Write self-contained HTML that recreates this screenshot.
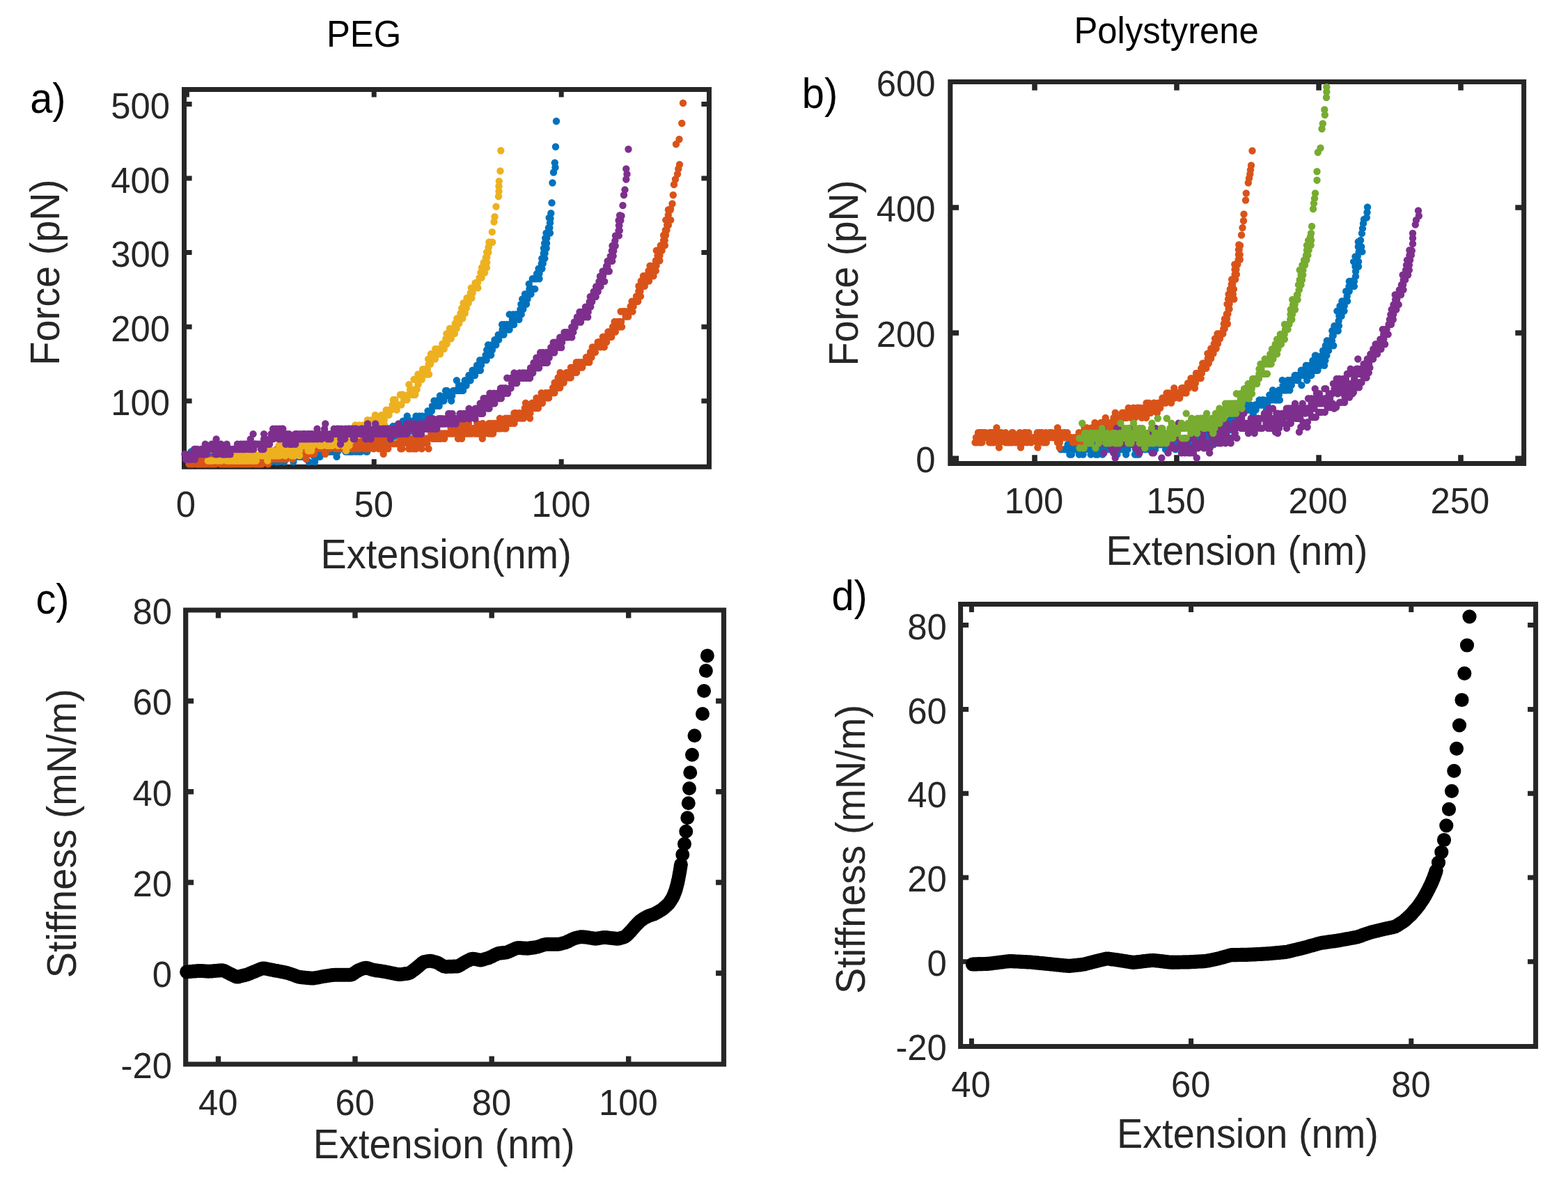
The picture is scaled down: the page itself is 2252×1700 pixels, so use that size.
<!DOCTYPE html>
<html lang="en">
<head>
<meta charset="utf-8">
<title>Force-extension and stiffness curves: PEG and Polystyrene</title>
<style>
html,body{margin:0;padding:0;background:#fff;}
body{width:2252px;height:1700px;overflow:hidden;}
svg text{white-space:pre;}
</style>
</head>
<body>
<svg width="2252" height="1700" viewBox="0 0 2252 1700" role="img" aria-label="Four-panel figure: force-extension curves for PEG and polystyrene, and stiffness versus extension" font-family="'Liberation Sans', sans-serif" style="display:block">
<rect width="2252" height="1700" fill="#ffffff"/>
<g id="panel-a">
<path fill="#262626" d="M261 124.9H1022V131.9H261ZM261 666.8H1022V673.8H261ZM261 124.9H268V673.8H261ZM1015 124.9H1022V673.8H1015ZM264.9 659.2H271.9V667.8H264.9ZM264.9 130.9H271.9V139.5H264.9ZM533.7 659.2H540.7V667.8H533.7ZM533.7 130.9H540.7V139.5H533.7ZM802.7 659.2H809.7V667.8H802.7ZM802.7 130.9H809.7V139.5H802.7ZM267 145.9H275.6V152.9H267ZM1007.4 145.9H1016V152.9H1007.4ZM267 252.5H275.6V259.5H267ZM1007.4 252.5H1016V259.5H1007.4ZM267 359.1H275.6V366.1H267ZM1007.4 359.1H1016V366.1H1007.4ZM267 465.7H275.6V472.7H267ZM1007.4 465.7H1016V472.7H1007.4ZM267 572.2H275.6V579.2H267ZM1007.4 572.2H1016V579.2H1007.4Z"/>
<path fill="none" stroke="#0072bd" stroke-width="10.4" stroke-linecap="round" d="M274.6 648.5h0M276.5 655.8h0M277.2 655.8h0M279.5 655.8h0M281.2 655.8h0M282.5 655.8h0M283.7 655.8h0M285.1 648.5h0M283.4 655.8h0M291.4 655.8h0M286.5 655.8h0M289.1 655.8h0M288.8 663.1h0M291.5 663.1h0M292.8 663.1h0M291.9 655.8h0M295.2 663.1h0M296.8 663.1h0M297.7 663.1h0M296.9 655.8h0M297.5 655.8h0M300.2 655.8h0M300 663.1h0M300.6 663.1h0M300.3 663.1h0M302.7 663.1h0M302.2 655.8h0M304.5 663.1h0M304.8 655.8h0M306 663.1h0M308.7 663.1h0M310.4 655.8h0M314.4 663.1h0M312.7 655.8h0M312.9 663.1h0M312.8 663.1h0M317.5 663.1h0M318 663.1h0M320.9 655.8h0M318.4 663.1h0M319.4 663.1h0M319.4 655.8h0M321.6 655.8h0M323.7 663.1h0M325.8 655.8h0M325.4 655.8h0M326.5 655.8h0M328 663.1h0M333.7 655.8h0M330.2 655.8h0M336.9 655.8h0M336.3 663.1h0M337.3 655.8h0M337.4 663.1h0M340.8 663.1h0M340.4 663.1h0M345.4 655.8h0M347.1 663.1h0M344.4 663.1h0M351 663.1h0M353.6 663.1h0M352.7 663.1h0M352.1 663.1h0M354.4 663.1h0M355.6 663.1h0M357.3 663.1h0M356.9 663.1h0M359 663.1h0M360.9 663.1h0M360.5 663.1h0M364.1 663.1h0M361.3 655.8h0M360.5 663.1h0M365.8 655.8h0M365.4 655.8h0M368.6 655.8h0M366.2 663.1h0M373.5 663.1h0M371.3 655.8h0M374.9 663.1h0M375.5 663.1h0M376.3 663.1h0M377.6 655.8h0M382.6 663.1h0M379.5 663.1h0M380.7 663.1h0M385 655.8h0M384.9 655.8h0M386.6 663.1h0M389.9 655.8h0M389.3 663.1h0M392.2 655.8h0M389.8 663.1h0M394.4 655.8h0M396.9 663.1h0M396.8 663.1h0M398.9 655.8h0M397.2 663.1h0M399.7 663.1h0M400 655.8h0M400.1 655.8h0M399.4 655.8h0M400 663.1h0M400.4 655.8h0M407.7 655.8h0M408.4 655.8h0M408.3 663.1h0M406.7 655.8h0M407.9 655.8h0M405.9 655.8h0M410.2 648.5h0M410.1 655.8h0M412 655.8h0M412.8 655.8h0M416.7 655.8h0M415.6 655.8h0M415.4 655.8h0M417.3 648.5h0M416.2 648.5h0M420.4 648.5h0M421.2 655.8h0M421.4 663.1h0M420.9 655.8h0M422.2 648.5h0M428 655.8h0M424.8 655.8h0M425.3 648.5h0M428.6 648.5h0M430 648.5h0M429.1 648.5h0M430.6 655.8h0M430.5 648.5h0M433.6 655.8h0M435.1 655.8h0M438.1 648.5h0M438.7 655.8h0M441.4 648.5h0M439.2 655.8h0M440.6 648.5h0M443.6 663.1h0M443.5 648.5h0M443.8 648.5h0M445.2 641.2h0M448.5 648.5h0M446.6 648.5h0M449 648.5h0M447.8 648.5h0M452.2 663.1h0M451.4 655.8h0M452.8 655.8h0M452.8 655.8h0M454.1 655.8h0M454.8 648.5h0M457.3 655.8h0M458.2 641.2h0M460.1 648.5h0M457.1 648.5h0M459.3 648.5h0M459.5 655.8h0M464.8 648.5h0M462.2 641.2h0M469 648.5h0M466.4 648.5h0M467.9 641.2h0M467.6 641.2h0M466.8 641.2h0M470.1 641.2h0M467.8 648.5h0M473.3 648.5h0M474.4 648.5h0M472.3 648.5h0M476.8 641.2h0M477.2 641.2h0M476.9 648.5h0M477.4 641.2h0M479 648.5h0M479.8 641.2h0M478.8 641.2h0M482.9 648.5h0M484.9 648.5h0M483.6 655.8h0M484.4 648.5h0M488.4 633.9h0M488.9 641.2h0M489.5 641.2h0M488.3 633.9h0M490.5 641.2h0M492.6 641.2h0M492.5 641.2h0M494 641.2h0M496.4 648.5h0M498.6 648.5h0M496.1 641.2h0M501.6 648.5h0M501.4 641.2h0M502.1 641.2h0M502.8 648.5h0M502.9 648.5h0M506 648.5h0M506.6 648.5h0M510.8 648.5h0M511.2 648.5h0M514.9 641.2h0M512.5 641.2h0M513.8 641.2h0M512.4 633.9h0M515.4 648.5h0M517.9 641.2h0M518.2 648.5h0M516.5 641.2h0M519.5 641.2h0M522.4 641.2h0M522.8 641.2h0M525 641.2h0M529 641.2h0M526.1 648.5h0M524.3 641.2h0M529 641.2h0M527.2 648.5h0M531.6 641.2h0M530.3 641.2h0M531.1 641.2h0M531.6 641.2h0M533 641.2h0M533.3 641.2h0M535.1 641.2h0M539.6 641.2h0M538.4 633.9h0M539 626.6h0M538.5 633.9h0M539.8 641.2h0M543.3 626.6h0M541.6 626.6h0M542.7 641.2h0M542.7 626.6h0M543.8 626.6h0M546.1 626.6h0M547.7 633.9h0M545.3 633.9h0M546.6 626.6h0M549.1 633.9h0M550.7 619.3h0M551.2 626.6h0M551.3 626.6h0M552.1 619.3h0M554.4 619.3h0M554.3 626.6h0M553.3 626.6h0M558 619.3h0M559.4 619.3h0M558.9 619.3h0M560.4 619.3h0M557.8 619.3h0M562.6 619.3h0M565.4 619.3h0M564.4 612h0M565.5 619.3h0M567.3 619.3h0M568.1 612h0M566.9 626.6h0M572.7 619.3h0M570.8 619.3h0M574.5 619.3h0M573.6 619.3h0M573.7 612h0M577.5 612h0M579.1 612h0M579.5 604.7h0M578.7 604.7h0M580 612h0M581.2 619.3h0M583.6 604.7h0M582.2 612h0M584.1 612h0M584.8 597.4h0M586.6 604.7h0M589.1 619.3h0M588.2 604.7h0M590.1 604.7h0M591.7 604.7h0M592.6 612h0M593.9 604.7h0M593.9 604.7h0M592.1 604.7h0M594.5 604.7h0M596.5 612h0M597.5 597.4h0M600.3 604.7h0M601 612h0M602.8 604.7h0M602.5 612h0M602.6 597.4h0M605 604.7h0M607.7 604.7h0M608.8 604.7h0M606.4 597.4h0M609.7 604.7h0M607.5 604.7h0M606.4 597.4h0M612.1 597.4h0M612.9 597.4h0M614.5 590.1h0M615.3 597.4h0M617.2 590.1h0M615.4 597.4h0M617.2 597.4h0M617.1 590.1h0M620 590.1h0M617.2 597.4h0M621 582.8h0M621.4 582.8h0M624.2 582.8h0M623.5 575.5h0M624.3 582.8h0M625 582.8h0M624.2 582.8h0M629.8 582.8h0M627.5 575.5h0M630.7 582.8h0M630.5 575.5h0M631 575.5h0M632 568.2h0M634.3 575.5h0M635.9 575.5h0M634.9 575.5h0M637.4 575.5h0M637.4 575.5h0M639.3 568.2h0M640.1 560.9h0M641.9 560.9h0M645.1 568.2h0M643.4 568.2h0M643.4 568.2h0M643.5 568.2h0M644.9 568.2h0M647.6 568.2h0M648.2 575.5h0M651 560.9h0M649.2 568.2h0M653.2 560.9h0M652.8 560.9h0M654.2 560.9h0M655.9 546.3h0M656.9 560.9h0M654.7 560.9h0M656.7 560.9h0M659.3 553.6h0M659 553.6h0M657.1 560.9h0M662 553.6h0M660.3 560.9h0M662.8 560.9h0M665 560.9h0M665.4 553.6h0M663.8 553.6h0M666.7 553.6h0M667.7 546.3h0M669.2 546.3h0M669.2 553.6h0M669.6 553.6h0M673 546.3h0M671 546.3h0M673.4 539h0M674.1 539h0M675.5 546.3h0M674.2 539h0M677 539h0M674.8 539h0M678.6 531.7h0M678.4 539h0M679.5 531.7h0M682.8 531.7h0M680.5 531.7h0M682 539h0M681.3 531.7h0M685.1 524.4h0M687.8 524.4h0M687.4 531.7h0M687 531.7h0M689.9 531.7h0M688.3 524.4h0M688.3 524.4h0M687.4 531.7h0M691 524.4h0M689.2 517.1h0M692.5 517.1h0M696.9 517.1h0M696.6 517.1h0M696.4 517.1h0M696 517.1h0M697.6 509.8h0M698.6 517.1h0M700.4 509.8h0M700.9 509.8h0M698.7 509.8h0M699.2 502.5h0M703.5 502.5h0M702.9 509.8h0M705.2 509.8h0M706.4 495.2h0M704.3 502.5h0M701.1 495.2h0M706.9 502.5h0M709.9 495.2h0M709.5 495.2h0M710.5 487.9h0M710.5 495.2h0M712.3 495.2h0M711.6 495.2h0M713.3 487.9h0M713.5 487.9h0M714.3 487.9h0M714.6 487.9h0M716.8 480.6h0M715.7 480.6h0M716.2 487.9h0M716.1 487.9h0M719.9 480.6h0M721.6 473.3h0M720.7 480.6h0M721.1 466h0M724.2 473.3h0M723.5 480.6h0M723.4 473.3h0M724.9 473.3h0M724.1 466h0M728.4 466h0M729.2 473.3h0M727.5 466h0M731 466h0M731.6 473.3h0M731.7 451.4h0M735.9 458.7h0M734.1 466h0M736.5 458.7h0M738 458.7h0M738.1 466h0M736.8 458.7h0M736.9 451.4h0M740 451.4h0M738.6 458.7h0M742.3 451.4h0M741.7 451.4h0M744 451.4h0M745.4 458.7h0M746.9 451.4h0M744.6 451.4h0M748.7 451.4h0M745 451.4h0M745.6 451.4h0M748.4 436.8h0M750.6 444.1h0M747.4 444.1h0M747.6 444.1h0M749.5 436.8h0M751.3 444.1h0M752.3 436.8h0M750.2 429.5h0M755.2 436.8h0M756 436.8h0M755.7 429.5h0M754 422.2h0M754.5 429.5h0M756.1 429.5h0M757.5 429.5h0M759.8 422.2h0M760.4 414.9h0M759.7 407.6h0M762.5 422.2h0M764.2 414.9h0M761.4 422.2h0M762.9 414.9h0M764.8 400.3h0M763.2 414.9h0M764.2 414.9h0M762.9 414.9h0M768.2 414.9h0M768.7 400.3h0M765.4 414.9h0M768.5 400.3h0M767.1 400.3h0M771.6 393h0M770.5 400.3h0M770.2 400.3h0M772.3 393h0M774.5 400.3h0M771.1 393h0M773.8 393h0M774.5 393h0M773.6 385.7h0M774.9 385.7h0M774.6 385.7h0M777.7 385.7h0M778.4 385.7h0M778.3 371.1h0M777.8 378.4h0M779.8 378.4h0M782.3 371.1h0M779.3 371.1h0M778.7 371.1h0M779.2 371.1h0M782.6 363.8h0M781 356.5h0M780.8 363.8h0M782.4 356.5h0M784.7 356.5h0M784.6 341.9h0M782.2 349.2h0M785.1 349.2h0M784.6 349.2h0M783.2 349.2h0M784.6 349.2h0M783.2 341.9h0M784.5 334.6h0M785.3 341.9h0M785 334.6h0M785.6 334.6h0M787.9 327.3h0M790 334.6h0M789.4 327.3h0M790 320h0M789.9 320h0M788.7 312.7h0M790.5 313.8h0M791.3 306.3h0M792.5 291.3h0M793.5 262.5h0M795 247.5h0M797.5 240.5h0M796.8 233.8h0M798 210.8h0M799 174h0"/>
<path fill="none" stroke="#d95319" stroke-width="10.4" stroke-linecap="round" d="M271.5 666.3h0M272.7 666.3h0M275.6 666.3h0M277.2 666.3h0M280.9 659h0M282.6 666.3h0M282.3 666.3h0M286.9 666.3h0M286.2 659h0M286.2 666.3h0M289.9 659h0M291.1 666.3h0M288.8 666.3h0M289.7 666.3h0M293.4 666.3h0M291.9 666.3h0M293.7 666.3h0M296.6 666.3h0M295.8 666.3h0M296.9 651.7h0M296.8 666.3h0M302.5 666.3h0M300.9 666.3h0M298.5 659h0M303.6 666.3h0M305.4 659h0M309.5 666.3h0M307.4 666.3h0M312.7 659h0M312.3 659h0M316.7 666.3h0M320.5 666.3h0M324 666.3h0M321.7 666.3h0M324.4 666.3h0M326.5 666.3h0M323.8 666.3h0M330.3 666.3h0M331.4 666.3h0M331.7 666.3h0M331.9 666.3h0M331.7 659h0M335 659h0M335.1 659h0M334.5 666.3h0M336.7 666.3h0M339.4 666.3h0M343.8 666.3h0M347.6 666.3h0M349.2 659h0M349.4 666.3h0M353.1 659h0M353.2 666.3h0M354.3 666.3h0M353.7 666.3h0M356.8 666.3h0M358.4 659h0M359.3 659h0M359 659h0M360.6 659h0M360.7 666.3h0M364.9 659h0M365.6 666.3h0M366.2 666.3h0M367.4 666.3h0M369.8 666.3h0M373.5 666.3h0M371.5 659h0M373.6 666.3h0M370.6 659h0M378 659h0M376.3 666.3h0M374.2 659h0M380.5 651.7h0M381.9 659h0M381.5 659h0M380.9 659h0M381.7 659h0M385.1 666.3h0M384.4 651.7h0M387.8 659h0M387.9 651.7h0M389.3 659h0M390.5 651.7h0M392.8 651.7h0M391.4 651.7h0M391.8 659h0M388.9 659h0M395 651.7h0M398 659h0M398 644.4h0M397.6 659h0M400.8 651.7h0M400 651.7h0M399.4 651.7h0M402.9 651.7h0M406.6 644.4h0M404.2 659h0M407.8 651.7h0M407.2 659h0M408.4 651.7h0M409.3 644.4h0M413.6 651.7h0M411.9 651.7h0M411.5 659h0M416.2 651.7h0M415.1 651.7h0M416 651.7h0M418 644.4h0M420.3 659h0M418.4 644.4h0M420.1 644.4h0M421.4 651.7h0M419.9 637.1h0M425.3 644.4h0M423.1 651.7h0M427.7 644.4h0M427.8 651.7h0M428.5 644.4h0M432.9 651.7h0M433.4 651.7h0M432.4 644.4h0M433.6 644.4h0M436.5 644.4h0M438.7 651.7h0M440.2 644.4h0M439.6 659h0M439.7 651.7h0M445.3 644.4h0M444.3 644.4h0M446.4 644.4h0M446.4 651.7h0M446.5 651.7h0M447.1 651.7h0M450.4 644.4h0M451.1 651.7h0M451.4 637.1h0M450 644.4h0M452 637.1h0M454.8 637.1h0M456.7 644.4h0M455 637.1h0M457.2 637.1h0M461.8 644.4h0M458.9 637.1h0M462.8 637.1h0M464.2 644.4h0M461.9 644.4h0M462.5 644.4h0M468 644.4h0M465 644.4h0M465.8 637.1h0M468 644.4h0M467.3 651.7h0M470.5 644.4h0M472 637.1h0M473.2 644.4h0M471.9 637.1h0M475 637.1h0M474.7 637.1h0M478.2 637.1h0M480.3 629.8h0M478.4 637.1h0M478.5 637.1h0M479.3 629.8h0M482 644.4h0M483.7 637.1h0M481.5 629.8h0M483.5 637.1h0M486 637.1h0M485.8 644.4h0M489.6 629.8h0M491.4 644.4h0M491.2 629.8h0M493.1 637.1h0M492.5 637.1h0M496.4 637.1h0M495.3 637.1h0M492.5 629.8h0M496.8 629.8h0M497.8 637.1h0M498.5 637.1h0M497.6 644.4h0M499.1 637.1h0M500.7 644.4h0M500.6 637.1h0M507 637.1h0M505.9 644.4h0M505.5 637.1h0M506.2 629.8h0M508.2 637.1h0M508.3 644.4h0M505.9 637.1h0M511.3 637.1h0M512 644.4h0M511.2 644.4h0M510.5 644.4h0M513 637.1h0M515.5 629.8h0M516.5 644.4h0M517.1 637.1h0M518.5 629.8h0M520.4 637.1h0M520 629.8h0M523.9 637.1h0M523 637.1h0M524 644.4h0M525.6 637.1h0M526.3 644.4h0M526 637.1h0M527.5 637.1h0M530.2 644.4h0M531.2 629.8h0M535.4 637.1h0M532.7 637.1h0M533.7 637.1h0M533.3 637.1h0M536.8 644.4h0M534.3 637.1h0M536.1 629.8h0M541.1 637.1h0M538.5 629.8h0M537.8 637.1h0M540.7 629.8h0M543.9 644.4h0M544 637.1h0M546.9 637.1h0M545.5 644.4h0M548.4 637.1h0M550.2 644.4h0M548.6 637.1h0M550.7 651.7h0M550.9 629.8h0M552.5 637.1h0M553.2 644.4h0M554.3 637.1h0M557.1 637.1h0M560.6 637.1h0M557.2 644.4h0M557.2 637.1h0M560.9 637.1h0M563.9 637.1h0M562.2 637.1h0M562.7 637.1h0M564.8 637.1h0M568.6 637.1h0M569.8 637.1h0M571.9 637.1h0M570.7 637.1h0M571.3 637.1h0M575.4 644.4h0M573.4 637.1h0M574.8 629.8h0M576.1 637.1h0M576 637.1h0M576.6 637.1h0M577.2 644.4h0M578.9 637.1h0M582.2 629.8h0M582.2 629.8h0M586.1 637.1h0M586.4 637.1h0M583.5 629.8h0M589.7 644.4h0M588.9 644.4h0M587.2 644.4h0M589.7 637.1h0M589 629.8h0M590.6 637.1h0M590.4 637.1h0M593.1 629.8h0M594.3 644.4h0M597.1 637.1h0M594.5 629.8h0M596.1 629.8h0M598.6 637.1h0M597.7 644.4h0M598.8 637.1h0M603.8 637.1h0M603.8 637.1h0M605 637.1h0M602.7 629.8h0M605.7 644.4h0M606.5 637.1h0M609.8 629.8h0M609.8 629.8h0M611.1 629.8h0M614.4 629.8h0M613.5 637.1h0M613.2 629.8h0M614.1 629.8h0M615.5 644.4h0M619.9 622.5h0M619.2 622.5h0M620.8 629.8h0M621.8 622.5h0M621.1 629.8h0M623.7 629.8h0M622.5 622.5h0M626.9 629.8h0M625.6 622.5h0M628 622.5h0M628.6 629.8h0M627.8 629.8h0M631.3 622.5h0M633.2 629.8h0M632.4 629.8h0M634.4 622.5h0M637.4 622.5h0M639.2 622.5h0M639.2 622.5h0M638.1 629.8h0M642.7 607.9h0M641.3 622.5h0M642.9 622.5h0M643.5 622.5h0M646.6 622.5h0M646.6 622.5h0M648.1 622.5h0M647.7 615.2h0M651.1 615.2h0M650.9 622.5h0M651.1 622.5h0M655.2 622.5h0M656.4 622.5h0M658 629.8h0M658.1 615.2h0M660.4 615.2h0M664.4 622.5h0M663.1 629.8h0M661.9 607.9h0M663.4 615.2h0M662.9 615.2h0M666.9 615.2h0M666.5 607.9h0M664.3 600.6h0M667.8 615.2h0M666.9 622.5h0M672.9 607.9h0M669.2 622.5h0M670.8 615.2h0M672.9 622.5h0M676.7 622.5h0M676.6 622.5h0M674.8 615.2h0M676.2 615.2h0M677.7 615.2h0M679.7 615.2h0M677.6 615.2h0M677.5 622.5h0M682 615.2h0M681.7 615.2h0M682.4 622.5h0M685 622.5h0M685.3 615.2h0M685.3 607.9h0M686.8 615.2h0M686.4 622.5h0M686.9 622.5h0M689.2 622.5h0M687.2 615.2h0M693.1 607.9h0M691.9 615.2h0M694.2 622.5h0M696.6 622.5h0M692.8 629.8h0M696 615.2h0M695.9 615.2h0M702.1 622.5h0M701.2 615.2h0M702.5 615.2h0M700.8 615.2h0M702.3 607.9h0M701.7 615.2h0M704.1 615.2h0M705.5 622.5h0M707.5 615.2h0M706.1 607.9h0M711.7 615.2h0M710.6 607.9h0M708.1 622.5h0M710.6 607.9h0M715.1 607.9h0M713.3 607.9h0M714.6 615.2h0M715.7 607.9h0M717.5 615.2h0M715.7 607.9h0M719.4 607.9h0M719.5 615.2h0M717.9 600.6h0M722 607.9h0M719.9 607.9h0M725.1 607.9h0M724.7 615.2h0M725.7 600.6h0M728.5 607.9h0M726.5 615.2h0M729.2 607.9h0M728.7 600.6h0M733.8 600.6h0M731.3 600.6h0M732.8 607.9h0M730.6 607.9h0M733.7 607.9h0M736.9 600.6h0M738.4 593.3h0M738.5 607.9h0M742.3 600.6h0M739.4 593.3h0M741.3 593.3h0M740.5 593.3h0M740.7 593.3h0M744 600.6h0M743.4 600.6h0M746.4 593.3h0M749.2 600.6h0M748.7 600.6h0M745.4 593.3h0M750.5 593.3h0M748.4 600.6h0M754.3 593.3h0M753.8 586h0M753.5 593.3h0M751.9 600.6h0M756.5 586h0M758.4 586h0M755 578.7h0M759.5 593.3h0M761.4 593.3h0M761.4 586h0M761.2 586h0M761.1 600.6h0M763.3 586h0M764 586h0M764.2 578.7h0M766.5 578.7h0M768.6 586h0M768.8 578.7h0M770.5 571.4h0M770.7 586h0M772.9 586h0M771.7 578.7h0M774.8 578.7h0M771.2 578.7h0M773.9 578.7h0M775.7 571.4h0M778.9 578.7h0M779.6 571.4h0M778 571.4h0M780 571.4h0M777.6 564.1h0M780.3 571.4h0M779.8 571.4h0M783.4 564.1h0M785.9 564.1h0M784.2 571.4h0M784.8 571.4h0M788.1 571.4h0M786.5 571.4h0M785.2 571.4h0M787.5 564.1h0M789.1 564.1h0M788 571.4h0M791.4 564.1h0M794.4 564.1h0M795.6 556.8h0M792.6 564.1h0M794.1 556.8h0M794.2 564.1h0M796.4 564.1h0M799.6 556.8h0M796.6 549.5h0M798.9 556.8h0M798.3 549.5h0M799.6 556.8h0M801.8 556.8h0M803.7 549.5h0M801.6 542.2h0M809.6 549.5h0M806.6 549.5h0M804.2 556.8h0M804.6 534.9h0M809.3 549.5h0M809.7 542.2h0M808.8 549.5h0M812.1 542.2h0M812.3 542.2h0M813.7 534.9h0M812.9 542.2h0M816.2 534.9h0M813.9 542.2h0M817.6 542.2h0M816.5 534.9h0M816.9 534.9h0M821.7 534.9h0M819.6 534.9h0M816.9 534.9h0M819.9 527.6h0M819.7 542.2h0M822.5 534.9h0M824 534.9h0M822.6 527.6h0M824.9 534.9h0M825.3 534.9h0M827.8 520.3h0M828 534.9h0M830.4 527.6h0M830.3 527.6h0M831 527.6h0M831.7 527.6h0M831.8 520.3h0M831 520.3h0M835.3 520.3h0M836.2 527.6h0M841.3 520.3h0M834.5 527.6h0M838.3 520.3h0M839.3 520.3h0M841.6 520.3h0M842.9 513h0M842 513h0M845.6 513h0M843.8 513h0M844.2 513h0M846.3 520.3h0M847.8 513h0M849.1 513h0M847.9 505.7h0M848.4 505.7h0M852.2 505.7h0M849.5 513h0M850.8 498.4h0M854.9 505.7h0M857.2 498.4h0M853.7 498.4h0M857.6 498.4h0M859.8 491.1h0M857.1 498.4h0M858.6 491.1h0M861.4 491.1h0M862.4 498.4h0M862.2 491.1h0M862.5 491.1h0M863.2 491.1h0M863.3 491.1h0M865.8 483.8h0M866 491.1h0M867.8 498.4h0M867.9 483.8h0M871.2 491.1h0M870.6 483.8h0M872.6 483.8h0M871.3 483.8h0M873.4 476.5h0M874 476.5h0M873.3 483.8h0M878.3 483.8h0M876.1 483.8h0M878.2 476.5h0M878.2 476.5h0M880.1 469.2h0M882.9 476.5h0M882 469.2h0M882.7 469.2h0M883.8 476.5h0M883 461.9h0M886.5 461.9h0M882.6 461.9h0M887.8 469.2h0M889.5 461.9h0M889.6 469.2h0M890.4 461.9h0M893 469.2h0M891.6 447.3h0M892.1 461.9h0M892.3 469.2h0M891.8 461.9h0M894.8 447.3h0M897.1 447.3h0M898.7 447.3h0M898.7 454.6h0M898.9 454.6h0M902.2 447.3h0M903.1 447.3h0M901.8 454.6h0M902.2 454.6h0M905.6 440h0M903.1 447.3h0M907 440h0M909.4 440h0M906.5 440h0M909.3 440h0M908.5 447.3h0M909.1 440h0M909.7 440h0M907.6 432.7h0M910.7 432.7h0M912.6 432.7h0M914 425.4h0M916.2 432.7h0M914.4 425.4h0M915 425.4h0M917.3 418.1h0M914.2 425.4h0M916.4 425.4h0M919.8 425.4h0M920 425.4h0M919.5 418.1h0M920.8 410.8h0M918.8 410.8h0M917.4 410.8h0M920.8 403.5h0M923.3 410.8h0M924.3 410.8h0M924 396.2h0M921.7 403.5h0M925.4 396.2h0M925.8 410.8h0M928.7 403.5h0M928.7 403.5h0M928.2 403.5h0M929.7 396.2h0M929.3 396.2h0M931.5 388.9h0M932 403.5h0M931.8 396.2h0M935 388.9h0M933.5 381.6h0M937 388.9h0M935.3 396.2h0M936.1 396.2h0M938.5 396.2h0M938.3 396.2h0M939.8 381.6h0M939.1 381.6h0M939.2 381.6h0M941.7 381.6h0M941.8 388.9h0M943.1 374.3h0M941.9 374.3h0M942.3 374.3h0M942.6 381.6h0M942.8 359.7h0M944.5 367h0M947.4 374.3h0M946.6 367h0M947.8 359.7h0M947.4 367h0M947 359.7h0M947.5 359.7h0M949.1 352.4h0M947.5 359.7h0M950.6 359.7h0M949.7 352.4h0M948.8 352.4h0M953.6 352.4h0M953 345.1h0M954.7 345.1h0M954.9 352.4h0M956 337.8h0M954.6 345.1h0M954.5 345.1h0M953.1 337.8h0M956.7 330.5h0M957 330.5h0M957.5 330.5h0M955.8 330.5h0M958.3 323.2h0M958.2 323.2h0M959.9 323.2h0M959.4 315.9h0M956.3 315.9h0M960.9 315.9h0M963.2 315.9h0M960.3 315.9h0M962.8 301.3h0M959.8 308.6h0M959.9 301.3h0M963 300h0M965.5 292.5h0M966.8 280h0M968 265h0M970 257.5h0M973 250h0M974.3 242.5h0M976 236.3h0M971 207h0M975.5 200h0M979.3 177h0M981 148h0"/>
<path fill="none" stroke="#edb120" stroke-width="10.4" stroke-linecap="round" d="M298.8 661.6h0M302.3 661.6h0M306.1 661.6h0M304.7 661.6h0M312 661.6h0M312.8 661.6h0M317.9 661.6h0M317.7 661.6h0M325.5 661.6h0M326.8 661.6h0M328.5 661.6h0M331.6 661.6h0M332.8 661.6h0M333.6 661.6h0M335 661.6h0M337.9 661.6h0M336.9 661.6h0M339.6 661.6h0M340 654.3h0M344.1 661.6h0M342.5 654.3h0M345 661.6h0M343.4 661.6h0M345.2 661.6h0M346.5 654.3h0M348 661.6h0M348.2 661.6h0M350.1 661.6h0M351.8 654.3h0M352.5 661.6h0M351.5 661.6h0M354.3 661.6h0M354.3 661.6h0M356.6 654.3h0M354.9 654.3h0M357.7 661.6h0M357.2 661.6h0M362.1 661.6h0M365.8 654.3h0M363.1 654.3h0M362.8 654.3h0M365 661.6h0M363.7 647h0M366.4 654.3h0M367.8 661.6h0M367 654.3h0M369.5 654.3h0M369.6 654.3h0M373.8 639.7h0M374.5 654.3h0M375.7 654.3h0M376.9 654.3h0M374.9 654.3h0M375.8 647h0M377.6 639.7h0M376.6 654.3h0M379.4 654.3h0M380.2 654.3h0M381.6 639.7h0M382.6 647h0M383.1 647h0M382.5 654.3h0M385.3 654.3h0M384.1 654.3h0M384.3 661.6h0M385.4 647h0M389.8 647h0M391.2 654.3h0M388.9 647h0M391.1 654.3h0M393.5 654.3h0M392.7 647h0M397.9 654.3h0M395.4 654.3h0M400.4 639.7h0M401.6 647h0M405.3 647h0M401.8 654.3h0M402.9 647h0M404.2 647h0M405.4 647h0M404.8 647h0M404.8 639.7h0M405 647h0M409.7 654.3h0M409.4 639.7h0M409 647h0M412.5 647h0M412.1 647h0M413.5 647h0M418.5 647h0M417.1 647h0M418.6 654.3h0M417.7 647h0M419.5 647h0M422.5 654.3h0M422.8 639.7h0M423 639.7h0M423.8 647h0M422.2 647h0M423.5 647h0M424.9 647h0M427.4 632.4h0M430.1 654.3h0M431 639.7h0M430.2 647h0M434 639.7h0M431.6 639.7h0M437.2 639.7h0M437 632.4h0M439.6 639.7h0M437.6 639.7h0M439.6 639.7h0M438.2 639.7h0M442.5 647h0M440.6 639.7h0M442.8 639.7h0M444.4 647h0M444.8 647h0M447.3 647h0M448.7 639.7h0M449.3 639.7h0M448.9 639.7h0M449.8 639.7h0M452.4 632.4h0M452.8 632.4h0M456 632.4h0M457.2 632.4h0M459.2 639.7h0M455.9 632.4h0M459.5 632.4h0M462.7 639.7h0M460.3 639.7h0M462.3 632.4h0M464 632.4h0M466.3 625.1h0M466.7 632.4h0M470.2 632.4h0M469.7 639.7h0M470 632.4h0M472 632.4h0M471.1 632.4h0M471.9 639.7h0M473.3 639.7h0M473 632.4h0M474.7 625.1h0M475.1 632.4h0M480.3 632.4h0M477.3 639.7h0M478.4 625.1h0M481 632.4h0M485.4 632.4h0M484.4 632.4h0M485.3 639.7h0M485 632.4h0M486.5 632.4h0M486.4 625.1h0M488.6 632.4h0M491.8 632.4h0M492.3 625.1h0M491.5 632.4h0M489.8 632.4h0M492.6 639.7h0M497.2 647h0M496.8 632.4h0M495.1 639.7h0M496.7 632.4h0M500 639.7h0M501.6 639.7h0M500.8 632.4h0M501.6 632.4h0M504.6 632.4h0M505 632.4h0M504.8 625.1h0M506.3 625.1h0M507.5 625.1h0M508.1 625.1h0M507.4 625.1h0M508.7 617.8h0M510.3 610.5h0M514.4 625.1h0M511.8 625.1h0M512.2 625.1h0M516.5 617.8h0M516.3 610.5h0M519.1 617.8h0M518.8 617.8h0M519.8 617.8h0M520.1 617.8h0M521.6 610.5h0M522.5 617.8h0M522.8 610.5h0M524.2 610.5h0M523.6 610.5h0M527.4 610.5h0M527.8 603.2h0M528.4 603.2h0M526.5 610.5h0M527.6 610.5h0M528.5 610.5h0M529 610.5h0M533.5 603.2h0M531.7 610.5h0M534.8 603.2h0M533.5 610.5h0M536.6 603.2h0M535.3 603.2h0M536.8 610.5h0M538.9 595.9h0M538.7 603.2h0M542.2 610.5h0M545.6 603.2h0M543.6 603.2h0M544.3 603.2h0M543.1 610.5h0M547 603.2h0M548 595.9h0M549.9 595.9h0M546.2 603.2h0M551.8 603.2h0M552.5 610.5h0M551.5 595.9h0M554 595.9h0M553.8 595.9h0M554.9 595.9h0M554.7 588.6h0M558.5 595.9h0M561.7 588.6h0M558.1 588.6h0M560.8 588.6h0M561.9 588.6h0M561.5 588.6h0M567.7 581.3h0M563.7 581.3h0M565.5 581.3h0M564.9 574h0M570.2 581.3h0M567.1 581.3h0M569.7 588.6h0M567.5 574h0M574.1 581.3h0M569.1 581.3h0M574.6 581.3h0M574.9 566.7h0M575.8 581.3h0M576.2 566.7h0M577.9 566.7h0M576.4 581.3h0M580.1 574h0M578 566.7h0M578.6 566.7h0M580.6 574h0M583.2 574h0M584.3 574h0M584.6 574h0M586.6 566.7h0M587.4 552.1h0M589.1 559.4h0M592 566.7h0M591.5 559.4h0M593.2 566.7h0M594 559.4h0M594.4 566.7h0M596.3 566.7h0M594.5 544.8h0M596.3 559.4h0M598.6 559.4h0M597.7 559.4h0M600.5 552.1h0M603.1 544.8h0M600.4 537.5h0M600.7 552.1h0M603.3 544.8h0M601.5 544.8h0M603 544.8h0M601.5 537.5h0M605.8 544.8h0M605.9 537.5h0M607.1 530.2h0M606.4 537.5h0M610 530.2h0M605.2 537.5h0M609.6 537.5h0M612.1 537.5h0M610.8 530.2h0M611.9 530.2h0M615.7 522.9h0M613.9 530.2h0M615.1 515.6h0M618.1 522.9h0M616.1 537.5h0M616.8 522.9h0M616.9 522.9h0M618.9 508.3h0M618.4 515.6h0M619.5 515.6h0M619.9 508.3h0M623.1 515.6h0M621 508.3h0M625.9 508.3h0M624.9 515.6h0M625.2 508.3h0M624.5 508.3h0M625.3 501h0M631.5 508.3h0M628.8 508.3h0M632.1 508.3h0M631.4 508.3h0M630.6 501h0M634.2 501h0M632.8 501h0M635.8 501h0M635.3 493.7h0M637.7 501h0M639.2 493.7h0M640.1 493.7h0M640.5 493.7h0M641 486.4h0M640.3 486.4h0M641.7 493.7h0M641.4 479.1h0M641.9 486.4h0M643.7 486.4h0M646 471.8h0M649 479.1h0M644.7 486.4h0M647.7 486.4h0M649.6 479.1h0M647.8 479.1h0M649.2 479.1h0M650.1 471.8h0M652.9 479.1h0M649.2 471.8h0M652.8 471.8h0M653.8 464.5h0M656.4 464.5h0M654.5 464.5h0M655.7 471.8h0M658.4 464.5h0M657.9 457.2h0M657.1 464.5h0M656.4 457.2h0M661.4 449.9h0M659.2 464.5h0M658.4 457.2h0M661.9 457.2h0M661.7 449.9h0M664.3 457.2h0M662 457.2h0M662.3 449.9h0M663.2 442.6h0M664.5 442.6h0M665.1 442.6h0M666.6 449.9h0M665.6 435.3h0M667.8 449.9h0M669.4 435.3h0M666.6 442.6h0M669.8 442.6h0M669.7 442.6h0M670.9 435.3h0M671.5 435.3h0M670.6 428h0M672.7 435.3h0M672.1 428h0M676.7 428h0M673.9 428h0M677.3 420.7h0M675.7 420.7h0M676.8 413.4h0M677.4 428h0M678.6 420.7h0M682.3 413.4h0M682.2 413.4h0M680.5 413.4h0M682.6 406.1h0M684.1 406.1h0M682.4 413.4h0M686.2 413.4h0M686.4 413.4h0M683.5 406.1h0M685.7 413.4h0M686 406.1h0M688.5 398.8h0M691.6 398.8h0M689.2 398.8h0M689 398.8h0M689.3 398.8h0M689.8 398.8h0M688.7 398.8h0M696.1 391.5h0M692 384.2h0M690.5 391.5h0M693.9 384.2h0M694.8 384.2h0M695.2 376.9h0M696.7 376.9h0M694.7 376.9h0M698.9 384.2h0M697.5 376.9h0M696.5 376.9h0M699.2 376.9h0M699.3 369.6h0M699.3 369.6h0M697.8 369.6h0M701.4 362.3h0M700.3 362.3h0M701.8 355h0M699.1 362.3h0M701.1 362.3h0M701.5 355h0M702.8 347.7h0M701.9 355h0M702.4 347.7h0M707.2 347.7h0M704.5 347.7h0M706.8 333.1h0M709.5 318.5h0M710.5 311.2h0M712.5 296.6h0M716 282h0M716.5 274.7h0M716.5 267.4h0M716.8 260.1h0M718.5 245.5h0M719.3 216.3h0"/>
<path fill="none" stroke="#7e2f8e" stroke-width="10.4" stroke-linecap="round" d="M265.4 652.3h0M266.9 659.6h0M271.4 652.3h0M269.8 659.6h0M270.8 652.3h0M274.1 659.6h0M273.5 659.6h0M273.7 659.6h0M274.1 652.3h0M276.6 652.3h0M278.8 652.3h0M276.3 652.3h0M278.1 652.3h0M279.8 659.6h0M280 645h0M279.1 645h0M281.7 645h0M283.2 645h0M284.8 652.3h0M286.1 652.3h0M288.9 645h0M289.7 645h0M291.7 645h0M294.8 637.7h0M291.8 652.3h0M293.2 645h0M296.8 645h0M296.5 645h0M294.5 645h0M296.5 652.3h0M296.9 645h0M298.4 645h0M299.3 645h0M300.4 645h0M302.5 645h0M301.8 645h0M303.9 637.7h0M302.9 645h0M305.1 637.7h0M307.4 645h0M305.3 645h0M310.5 637.7h0M309.6 652.3h0M310.6 630.4h0M308.2 637.7h0M311.7 645h0M311.3 652.3h0M313.9 645h0M317.2 637.7h0M317.4 637.7h0M317.1 645h0M316.8 645h0M319.5 652.3h0M319.2 652.3h0M322.2 645h0M326 652.3h0M324.3 652.3h0M325.8 645h0M325.7 637.7h0M324.1 645h0M328.7 645h0M331 645h0M331.6 645h0M330.4 645h0M330.5 652.3h0M330.7 645h0M334.6 645h0M334.6 645h0M334.9 645h0M336.3 645h0M337.3 645h0M338.5 645h0M339.5 645h0M341 637.7h0M340.9 637.7h0M343.1 645h0M344.5 645h0M347 637.7h0M345.5 637.7h0M345.5 645h0M342.7 645h0M348.6 645h0M352.5 645h0M349.8 645h0M351 637.7h0M350.3 637.7h0M351.1 645h0M353.8 637.7h0M353.6 637.7h0M358 645h0M358.5 645h0M357.6 637.7h0M359.8 630.4h0M361.1 645h0M360.9 637.7h0M363.6 623.1h0M364.3 645h0M365.2 637.7h0M366.5 637.7h0M366.1 637.7h0M367.2 637.7h0M366.6 637.7h0M369.5 637.7h0M370.1 637.7h0M372.9 637.7h0M375.6 637.7h0M375.3 637.7h0M375.1 645h0M375.2 637.7h0M376.8 637.7h0M378.5 645h0M379.1 623.1h0M380.3 630.4h0M379.1 630.4h0M381.9 637.7h0M385.5 637.7h0M384.5 637.7h0M386.7 630.4h0M386.9 637.7h0M387.1 637.7h0M387.6 630.4h0M389.5 623.1h0M390.2 623.1h0M392.1 615.8h0M391.5 623.1h0M392.5 630.4h0M395.4 623.1h0M396.6 615.8h0M397 623.1h0M401.2 615.8h0M400.2 630.4h0M405 623.1h0M404 623.1h0M402.6 630.4h0M403.9 623.1h0M406.3 615.8h0M404.2 615.8h0M407 630.4h0M407.3 630.4h0M409.2 623.1h0M408.5 623.1h0M410.4 637.7h0M412.3 623.1h0M412.4 630.4h0M412.4 630.4h0M417.4 630.4h0M415.2 623.1h0M415.4 630.4h0M416.2 637.7h0M418.6 630.4h0M419.2 637.7h0M420.9 630.4h0M417.1 630.4h0M424 623.1h0M424.2 630.4h0M427.3 623.1h0M424.3 637.7h0M425.1 623.1h0M428.7 630.4h0M429.9 630.4h0M435.1 623.1h0M431.8 623.1h0M435.2 630.4h0M433.7 630.4h0M437.4 623.1h0M435.3 623.1h0M437.9 623.1h0M438.5 630.4h0M441.3 623.1h0M443.6 623.1h0M443.1 630.4h0M442.2 630.4h0M446 623.1h0M445.4 623.1h0M447.1 623.1h0M447.7 630.4h0M448.4 630.4h0M448.7 623.1h0M451.4 630.4h0M452.3 623.1h0M455.5 615.8h0M455.3 623.1h0M456.8 623.1h0M456.9 623.1h0M456 630.4h0M458.8 623.1h0M462.3 623.1h0M463.1 623.1h0M461.7 630.4h0M464.1 623.1h0M463.4 623.1h0M465.8 623.1h0M466.1 615.8h0M468.4 623.1h0M467.3 608.5h0M470.2 623.1h0M470.6 630.4h0M469.1 623.1h0M471.8 630.4h0M474 623.1h0M476.5 623.1h0M474.6 630.4h0M477.2 623.1h0M477.9 623.1h0M478.5 623.1h0M480.3 623.1h0M476.8 623.1h0M479.7 615.8h0M482 623.1h0M484.1 615.8h0M487.6 615.8h0M484.4 615.8h0M486.1 623.1h0M489 623.1h0M489.3 630.4h0M489 637.7h0M490.9 615.8h0M493.5 630.4h0M493.7 623.1h0M493.2 623.1h0M495.1 630.4h0M491.8 623.1h0M496.3 615.8h0M499.6 615.8h0M497.7 623.1h0M499.5 623.1h0M501.3 615.8h0M502.2 623.1h0M501.9 623.1h0M504.3 615.8h0M505.9 615.8h0M501.7 615.8h0M506.6 615.8h0M506.7 623.1h0M507.9 630.4h0M508.9 615.8h0M509.2 630.4h0M510.6 615.8h0M510.1 615.8h0M512 615.8h0M511.2 623.1h0M513.3 623.1h0M517.7 623.1h0M518.8 615.8h0M520.4 615.8h0M519.3 623.1h0M520.6 615.8h0M524.3 623.1h0M523.5 615.8h0M525.3 630.4h0M527.1 623.1h0M528 608.5h0M525.9 615.8h0M530.4 615.8h0M532.6 630.4h0M530.4 615.8h0M535 623.1h0M536.7 623.1h0M538.1 623.1h0M535.6 623.1h0M537.7 615.8h0M540 623.1h0M539.2 608.5h0M540.3 615.8h0M543.6 623.1h0M544.5 615.8h0M544.7 623.1h0M545.4 615.8h0M544.3 623.1h0M550.2 615.8h0M551 615.8h0M549.3 623.1h0M552.5 623.1h0M553.1 615.8h0M555.3 615.8h0M557.9 623.1h0M557.8 623.1h0M557.7 623.1h0M558.4 615.8h0M558.1 615.8h0M560.8 615.8h0M560.8 630.4h0M562.3 615.8h0M565.1 623.1h0M564.7 615.8h0M562.9 623.1h0M565.9 615.8h0M570.3 623.1h0M570 615.8h0M572.3 615.8h0M572.4 608.5h0M574.5 615.8h0M573.1 615.8h0M574.2 623.1h0M574.1 623.1h0M574.7 615.8h0M578.2 623.1h0M582.1 615.8h0M578.5 615.8h0M583 615.8h0M582.9 615.8h0M584.1 623.1h0M586.1 608.5h0M584.6 608.5h0M585 608.5h0M588.9 608.5h0M590.1 615.8h0M590.8 615.8h0M591.3 608.5h0M594.5 608.5h0M594.3 615.8h0M595.5 615.8h0M597.8 615.8h0M597 623.1h0M601.5 615.8h0M600.5 623.1h0M602.4 615.8h0M601.3 608.5h0M602.9 615.8h0M604.3 615.8h0M605.1 615.8h0M605 623.1h0M606 608.5h0M610.1 615.8h0M610.7 608.5h0M611 615.8h0M609.8 608.5h0M614.1 615.8h0M612.7 615.8h0M616.8 601.2h0M613.6 608.5h0M618.6 601.2h0M618.7 615.8h0M618.7 608.5h0M621.9 601.2h0M623.2 608.5h0M623.5 615.8h0M625.5 608.5h0M627.3 615.8h0M626.2 608.5h0M628.6 608.5h0M628.8 608.5h0M630.9 608.5h0M631.9 601.2h0M630.9 601.2h0M629.7 601.2h0M633.2 608.5h0M632.1 601.2h0M634 601.2h0M635.1 601.2h0M637.1 608.5h0M638.3 608.5h0M639.5 601.2h0M640.7 601.2h0M643.2 608.5h0M643.5 601.2h0M644.3 593.9h0M645.3 593.9h0M646.8 601.2h0M647 601.2h0M649.1 608.5h0M648.6 601.2h0M649.6 593.9h0M652 601.2h0M649.5 601.2h0M652.3 601.2h0M654.8 601.2h0M654.5 608.5h0M654.4 601.2h0M657.3 601.2h0M657.8 601.2h0M661 601.2h0M658.2 601.2h0M660.5 593.9h0M662 593.9h0M660.3 601.2h0M665.1 601.2h0M666.2 593.9h0M666.7 601.2h0M668.9 593.9h0M670.2 593.9h0M670.9 593.9h0M673.7 586.6h0M671.8 593.9h0M673.6 586.6h0M677.1 593.9h0M673.2 593.9h0M674.4 601.2h0M679.1 593.9h0M678.2 593.9h0M681.3 593.9h0M681.5 593.9h0M682.4 601.2h0M682.6 586.6h0M683 586.6h0M684.3 586.6h0M686.2 586.6h0M686.8 586.6h0M689.4 593.9h0M686.6 586.6h0M689.7 579.3h0M690.9 586.6h0M693.1 593.9h0M693.3 586.6h0M694.7 579.3h0M694.6 579.3h0M694.6 572h0M695.9 586.6h0M696.4 586.6h0M697.2 572h0M699.4 579.3h0M698.9 572h0M700.8 586.6h0M700.1 579.3h0M703.5 564.7h0M702.5 586.6h0M703.5 572h0M708.4 579.3h0M709.1 572h0M707.2 579.3h0M709.3 564.7h0M708 572h0M710.9 572h0M713.5 572h0M710.3 579.3h0M714 564.7h0M716 564.7h0M716.2 572h0M719.2 557.4h0M719.8 572h0M719 564.7h0M719 557.4h0M721.6 557.4h0M720.9 557.4h0M723.9 557.4h0M726.6 557.4h0M725 564.7h0M726.8 557.4h0M725.9 557.4h0M729.2 564.7h0M733.6 557.4h0M728.3 542.8h0M732.2 557.4h0M732.8 557.4h0M734.5 542.8h0M735.7 550.1h0M735 550.1h0M738.5 535.5h0M737.3 550.1h0M738.4 550.1h0M739 542.8h0M738.6 550.1h0M742.2 550.1h0M743.2 542.8h0M747.1 542.8h0M746 535.5h0M748.2 542.8h0M749.4 542.8h0M750.1 542.8h0M750.5 535.5h0M752.2 542.8h0M752.6 535.5h0M753.6 542.8h0M756.8 542.8h0M752.9 542.8h0M757.5 542.8h0M754.8 542.8h0M756.2 535.5h0M760.8 535.5h0M762 535.5h0M761.1 542.8h0M761.1 535.5h0M762 528.2h0M765.2 535.5h0M761.8 535.5h0M766.5 520.9h0M768 528.2h0M767 528.2h0M769.4 528.2h0M766.2 528.2h0M769.2 520.9h0M768.8 528.2h0M773.8 520.9h0M771.4 528.2h0M774.1 528.2h0M770.4 513.6h0M773.2 520.9h0M777.1 520.9h0M776.1 506.3h0M776.4 520.9h0M780.1 520.9h0M779.3 506.3h0M780.3 513.6h0M780.2 506.3h0M782 520.9h0M785.3 506.3h0M784.8 506.3h0M788.7 513.6h0M785.9 520.9h0M788.6 506.3h0M791.5 506.3h0M788.5 506.3h0M791.7 506.3h0M791.3 499h0M793 506.3h0M795.2 506.3h0M796.1 506.3h0M794.7 491.7h0M797.1 491.7h0M800.8 491.7h0M800.8 499h0M800.8 499h0M799.2 491.7h0M802.5 491.7h0M803.9 491.7h0M803.9 491.7h0M804.7 491.7h0M804.2 491.7h0M805.2 484.4h0M806.2 499h0M804.2 484.4h0M807 491.7h0M809.5 484.4h0M810.8 477.1h0M808.2 484.4h0M813.9 484.4h0M810.5 477.1h0M813.2 477.1h0M811.9 484.4h0M814.5 477.1h0M814.6 477.1h0M816.1 484.4h0M818.4 477.1h0M821.4 469.8h0M821.2 484.4h0M823.3 477.1h0M821.2 469.8h0M821.9 469.8h0M826 462.5h0M824.8 462.5h0M825.4 462.5h0M824.6 469.8h0M825.5 469.8h0M829.6 455.2h0M828.9 455.2h0M829 462.5h0M830.6 462.5h0M830 455.2h0M834 462.5h0M832.5 447.9h0M835.2 447.9h0M835.6 455.2h0M834.2 455.2h0M840.2 447.9h0M839.3 455.2h0M839.5 447.9h0M840.9 440.6h0M844.2 455.2h0M843.5 440.6h0M844.7 447.9h0M844.9 440.6h0M844.5 447.9h0M845.4 440.6h0M845.9 440.6h0M847 440.6h0M846.7 433.3h0M848.2 440.6h0M847.8 426h0M851.5 426h0M848.5 426h0M849.7 426h0M850.2 433.3h0M852.5 426h0M852.7 418.7h0M855.7 426h0M852.5 426h0M856.1 411.4h0M855.5 426h0M855.4 426h0M857.1 411.4h0M857.2 418.7h0M858.7 418.7h0M858 418.7h0M858.1 411.4h0M859.6 411.4h0M860.3 411.4h0M860.7 411.4h0M862.5 411.4h0M862.1 404.1h0M860.4 404.1h0M864.1 404.1h0M866 396.8h0M861.9 396.8h0M863.7 396.8h0M864.7 396.8h0M868.2 404.1h0M865.6 389.5h0M870.9 389.5h0M870.9 389.5h0M867.8 389.5h0M872.3 389.5h0M871 382.2h0M872.4 382.2h0M873.7 389.5h0M873 374.9h0M876 374.9h0M872.6 374.9h0M874.8 389.5h0M875.5 374.9h0M873.6 374.9h0M875 374.9h0M876.8 367.6h0M875.8 374.9h0M878 367.6h0M879.2 374.9h0M876.8 367.6h0M878.8 367.6h0M880.7 367.6h0M878.8 360.3h0M881.3 360.3h0M879.5 353h0M881 360.3h0M883.7 353h0M881.4 353h0M883.3 345.7h0M882 353h0M886.6 338.4h0M884 338.4h0M881.3 353h0M885.5 338.4h0M885.1 338.4h0M884.7 338.4h0M888.4 338.4h0M888.8 338.4h0M889.8 331.1h0M889.4 323.8h0M888.5 331.1h0M888.9 323.8h0M889.2 316.5h0M888.6 316.5h0M889.8 316.5h0M890.1 309.2h0M891.3 316.5h0M892.5 310h0M894.5 295h0M896 280h0M897.5 272.5h0M899.3 257.5h0M900.5 250h0M899.3 242.5h0M902.5 214.3h0"/>
<text transform="translate(244 170) scale(1 1.012)" font-size="50.8" text-anchor="end" fill="#262626">500</text>
<text transform="translate(244 276.6) scale(1 1.012)" font-size="50.8" text-anchor="end" fill="#262626">400</text>
<text transform="translate(244 383.2) scale(1 1.012)" font-size="50.8" text-anchor="end" fill="#262626">300</text>
<text transform="translate(244 489.8) scale(1 1.012)" font-size="50.8" text-anchor="end" fill="#262626">200</text>
<text transform="translate(244 596.3) scale(1 1.012)" font-size="50.8" text-anchor="end" fill="#262626">100</text>
<text transform="translate(266.8 742.2) scale(1 1.012)" font-size="50.8" text-anchor="middle" fill="#262626">0</text>
<text transform="translate(536.8 742.2) scale(1 1.012)" font-size="50.8" text-anchor="middle" fill="#262626">50</text>
<text transform="translate(805.8 742.2) scale(1 1.012)" font-size="50.8" text-anchor="middle" fill="#262626">100</text>
<text transform="translate(84.9 524.7) rotate(-90) scale(1 1.045)" font-size="55.9" text-anchor="start" fill="#262626">Force (pN)</text>
<text transform="translate(460.5 815.6) scale(1 1.045)" font-size="55.9" text-anchor="start" fill="#262626">Extension(nm)</text>
<text transform="translate(43.2 161.5) scale(1 1.05)" font-size="57.7" text-anchor="start" fill="#000000">a)</text>
<text transform="translate(468.9 67) scale(1 1.04)" font-size="50.8" text-anchor="start" fill="#000000">PEG</text>
</g>
<g id="panel-b">
<path fill="#262626" d="M1361.3 114H2192.1V121H1361.3ZM1361.3 662H2192.1V669H1361.3ZM1361.3 114H1368.3V669H1361.3ZM2185.1 114H2192.1V669H2185.1ZM1482.2 653.2H1489.8V663H1482.2ZM1482.2 120H1489.8V129.8H1482.2ZM1686.2 653.2H1693.8V663H1686.2ZM1686.2 120H1693.8V129.8H1686.2ZM1890.3 653.2H1897.9V663H1890.3ZM1890.3 120H1897.9V129.8H1890.3ZM2094.2 653.2H2101.8V663H2094.2ZM2094.2 120H2101.8V129.8H2094.2ZM1367.3 294.2H1377.1V301.8H1367.3ZM2176.3 294.2H2186.1V301.8H2176.3ZM1367.3 474.2H1377.1V481.8H1367.3ZM2176.3 474.2H2186.1V481.8H2176.3ZM1367.3 654.5H1377.1V662.1H1367.3ZM2176.3 654.5H2186.1V662.1H2176.3Z"/>
<path fill="none" stroke="#0072bd" stroke-width="10.4" stroke-linecap="round" d="M1523.7 645.4h0M1524.2 645.4h0M1528.4 645.4h0M1528.6 645.4h0M1530.6 645.4h0M1529.8 645.4h0M1533.6 638.3h0M1532.1 645.4h0M1532.5 645.4h0M1534 638.3h0M1536.4 652.5h0M1535.3 638.3h0M1535 638.3h0M1540.3 645.4h0M1538.9 652.5h0M1542.5 638.3h0M1541.8 645.4h0M1543.9 645.4h0M1544 631.2h0M1544 638.3h0M1548 645.4h0M1547.3 638.3h0M1549.9 652.5h0M1548 638.3h0M1554.2 631.2h0M1551.7 645.4h0M1556.9 645.4h0M1555.6 652.5h0M1555.3 645.4h0M1558.1 638.3h0M1557.8 645.4h0M1556.7 638.3h0M1558.7 645.4h0M1563.6 645.4h0M1561 638.3h0M1565.3 638.3h0M1563.9 638.3h0M1565.9 645.4h0M1566.3 638.3h0M1566.7 652.5h0M1568.7 645.4h0M1569.3 638.3h0M1571.9 645.4h0M1571.2 638.3h0M1573.3 645.4h0M1574 652.5h0M1574.4 638.3h0M1576.4 652.5h0M1574.9 638.3h0M1577.9 645.4h0M1577.4 645.4h0M1577.6 631.2h0M1578.4 638.3h0M1583.2 638.3h0M1583.5 652.5h0M1588.3 631.2h0M1584.7 645.4h0M1586.6 631.2h0M1585.2 638.3h0M1588.6 638.3h0M1589.1 638.3h0M1588.3 638.3h0M1592 638.3h0M1593.1 645.4h0M1589.5 638.3h0M1591.9 638.3h0M1594.5 638.3h0M1595.1 631.2h0M1598.5 645.4h0M1599.7 638.3h0M1604.2 638.3h0M1604.4 652.5h0M1605.3 638.3h0M1604.3 645.4h0M1604.7 645.4h0M1606.1 638.3h0M1606.9 645.4h0M1607.4 638.3h0M1609.8 638.3h0M1609.5 645.4h0M1610.7 638.3h0M1612.3 645.4h0M1613.2 645.4h0M1615.5 638.3h0M1617.3 645.4h0M1616.9 645.4h0M1617 638.3h0M1617.2 652.5h0M1619.1 638.3h0M1619.8 638.3h0M1619.5 645.4h0M1621.5 638.3h0M1624.7 638.3h0M1625.3 638.3h0M1624.8 638.3h0M1626.6 638.3h0M1625 638.3h0M1630.1 652.5h0M1626.8 638.3h0M1629.6 638.3h0M1632.9 638.3h0M1630.9 638.3h0M1631.1 645.4h0M1637.5 638.3h0M1633.9 652.5h0M1635.6 652.5h0M1640.1 638.3h0M1638.9 638.3h0M1640.4 645.4h0M1639.9 638.3h0M1644.7 645.4h0M1643.9 631.2h0M1645.6 638.3h0M1645.8 638.3h0M1649.7 645.4h0M1648.7 638.3h0M1650.5 631.2h0M1649.9 638.3h0M1652.9 631.2h0M1651.9 631.2h0M1651.1 645.4h0M1649.3 638.3h0M1655.2 638.3h0M1653.9 624.1h0M1659.8 638.3h0M1659.1 645.4h0M1660.3 631.2h0M1658.4 631.2h0M1665.5 638.3h0M1667.1 638.3h0M1667.7 638.3h0M1665.1 638.3h0M1668.7 638.3h0M1667.2 638.3h0M1668.5 631.2h0M1670.9 638.3h0M1674.1 645.4h0M1671.1 638.3h0M1673.9 624.1h0M1672.9 631.2h0M1677.5 631.2h0M1676.6 631.2h0M1676.7 631.2h0M1677.7 631.2h0M1679.6 631.2h0M1681.9 638.3h0M1682.4 638.3h0M1683.8 638.3h0M1685.9 631.2h0M1683.2 631.2h0M1687.9 638.3h0M1688.5 638.3h0M1687.7 638.3h0M1691.8 631.2h0M1688.9 638.3h0M1688.2 645.4h0M1691.1 638.3h0M1690.8 631.2h0M1695.4 631.2h0M1694.3 638.3h0M1696.3 638.3h0M1698 638.3h0M1696.2 631.2h0M1700.6 631.2h0M1696.9 631.2h0M1699.2 631.2h0M1700.5 631.2h0M1704.4 638.3h0M1702.2 638.3h0M1701.4 638.3h0M1702.4 631.2h0M1706.1 631.2h0M1704.9 631.2h0M1705.3 638.3h0M1705.5 631.2h0M1708.5 638.3h0M1713.7 624.1h0M1712.7 624.1h0M1714.9 631.2h0M1710.3 631.2h0M1714.5 638.3h0M1715.7 638.3h0M1715.7 631.2h0M1718.1 631.2h0M1719.2 638.3h0M1719 631.2h0M1721.9 631.2h0M1723.3 624.1h0M1724.3 624.1h0M1725.9 631.2h0M1721.4 624.1h0M1728.2 624.1h0M1723.6 624.1h0M1726.3 631.2h0M1728.4 631.2h0M1728.3 638.3h0M1727.6 624.1h0M1729.2 624.1h0M1730.6 631.2h0M1733.5 631.2h0M1730.7 624.1h0M1735.2 624.1h0M1730.9 638.3h0M1734.5 638.3h0M1733.4 624.1h0M1733.6 617h0M1739.2 631.2h0M1738.1 631.2h0M1737.4 631.2h0M1741.3 624.1h0M1743.2 638.3h0M1742.2 617h0M1745.1 617h0M1747.3 617h0M1746.8 631.2h0M1746.7 617h0M1748.2 617h0M1747.1 617h0M1748.9 624.1h0M1751.4 617h0M1747.2 624.1h0M1748.5 609.9h0M1748.8 609.9h0M1748.2 609.9h0M1754.8 624.1h0M1752.3 617h0M1758.4 617h0M1757.3 617h0M1757 609.9h0M1758.3 624.1h0M1760.2 609.9h0M1763.1 609.9h0M1763.4 609.9h0M1758 602.8h0M1762.1 617h0M1765.2 617h0M1765.9 609.9h0M1767.7 609.9h0M1770.5 609.9h0M1766.9 602.8h0M1768.5 617h0M1769.8 602.8h0M1771.5 602.8h0M1773.9 609.9h0M1775.3 595.7h0M1775.9 602.8h0M1775.5 602.8h0M1776.7 595.7h0M1776.2 595.7h0M1772.8 602.8h0M1779.7 595.7h0M1780.6 588.6h0M1778.4 602.8h0M1782.4 602.8h0M1782.8 588.6h0M1780.2 595.7h0M1788.2 588.6h0M1788.3 588.6h0M1788.7 581.5h0M1790.3 588.6h0M1789.7 581.5h0M1791.6 588.6h0M1790.6 581.5h0M1790.8 588.6h0M1793.6 581.5h0M1793.1 588.6h0M1795.9 581.5h0M1797.5 588.6h0M1796.6 588.6h0M1796.2 588.6h0M1800.7 588.6h0M1799.9 595.7h0M1803.3 581.5h0M1803.3 581.5h0M1802.4 581.5h0M1803.6 588.6h0M1802.9 581.5h0M1808.9 581.5h0M1805.9 581.5h0M1808 581.5h0M1812.3 581.5h0M1809.5 574.4h0M1808.6 574.4h0M1813 574.4h0M1813.4 574.4h0M1813.5 574.4h0M1815.5 574.4h0M1818.1 581.5h0M1817.2 581.5h0M1818.9 581.5h0M1818.4 581.5h0M1819 588.6h0M1820.1 581.5h0M1823.3 567.3h0M1822.6 574.4h0M1821.9 574.4h0M1826.3 574.4h0M1826.8 567.3h0M1826.3 574.4h0M1826.4 574.4h0M1828 560.2h0M1829 567.3h0M1831.4 574.4h0M1832.7 567.3h0M1833.4 574.4h0M1835.1 574.4h0M1837.9 574.4h0M1837 560.2h0M1835.5 567.3h0M1839.3 560.2h0M1836.7 567.3h0M1841.7 546h0M1842.9 560.2h0M1841 560.2h0M1843.3 560.2h0M1845.3 560.2h0M1844.9 560.2h0M1842.6 553.1h0M1845.5 553.1h0M1847.7 560.2h0M1848.1 553.1h0M1852.3 560.2h0M1849.8 546h0M1853.9 553.1h0M1852.2 553.1h0M1854.7 546h0M1853.9 546h0M1853.7 546h0M1854.8 553.1h0M1854.9 546h0M1858.2 546h0M1859.7 538.9h0M1862.8 538.9h0M1860.5 538.9h0M1859.7 538.9h0M1864.1 546h0M1862.9 546h0M1865.1 538.9h0M1869.4 553.1h0M1868.5 538.9h0M1867.1 538.9h0M1868.8 531.8h0M1871.3 538.9h0M1872 531.8h0M1871.1 531.8h0M1869.8 531.8h0M1877.6 538.9h0M1875.8 524.7h0M1876.7 531.8h0M1874.3 531.8h0M1877.2 546h0M1878.1 538.9h0M1876.4 531.8h0M1880.2 531.8h0M1881.1 524.7h0M1880.5 538.9h0M1883.3 538.9h0M1883.1 524.7h0M1885.3 531.8h0M1888.8 531.8h0M1885.4 517.6h0M1886.7 517.6h0M1889.4 517.6h0M1890 510.5h0M1892.5 524.7h0M1892.4 531.8h0M1888.9 510.5h0M1894.7 517.6h0M1895.3 524.7h0M1893.2 517.6h0M1896.3 524.7h0M1896.9 517.6h0M1897.9 517.6h0M1899.3 517.6h0M1902.1 524.7h0M1900.1 503.4h0M1898.6 510.5h0M1903.4 517.6h0M1900.9 503.4h0M1902.9 503.4h0M1903.8 496.3h0M1905.1 503.4h0M1905.3 510.5h0M1906.5 503.4h0M1904.4 510.5h0M1905.8 489.2h0M1905.6 496.3h0M1908.1 503.4h0M1907.5 496.3h0M1907 496.3h0M1909.2 489.2h0M1909 496.3h0M1909 489.2h0M1909 489.2h0M1910.5 489.2h0M1913 489.2h0M1915.2 496.3h0M1914.7 482.1h0M1913.8 482.1h0M1914 482.1h0M1913.3 475h0M1916.4 467.9h0M1913.8 482.1h0M1917.3 475h0M1917.5 475h0M1919.2 475h0M1920.7 475h0M1919.6 475h0M1921.2 475h0M1920.5 475h0M1921.7 475h0M1922.6 467.9h0M1920.4 446.6h0M1922.9 467.9h0M1921.8 446.6h0M1924.3 446.6h0M1922.6 460.8h0M1923.4 453.7h0M1927.1 439.5h0M1926.6 453.7h0M1924.5 439.5h0M1926.3 446.6h0M1928.1 446.6h0M1928.3 446.6h0M1927.4 446.6h0M1927.4 432.4h0M1929.3 432.4h0M1930.5 446.6h0M1930.7 439.5h0M1933.6 432.4h0M1932.5 432.4h0M1932.2 432.4h0M1932 432.4h0M1933.2 418.2h0M1935.1 432.4h0M1934.7 425.3h0M1935 418.2h0M1935.5 418.2h0M1939 411.1h0M1937.5 411.1h0M1937.9 411.1h0M1937.7 418.2h0M1937.8 404h0M1940.9 404h0M1939.2 411.1h0M1940.5 404h0M1941.6 404h0M1944.9 411.1h0M1942.5 411.1h0M1942.6 411.1h0M1944.9 404h0M1943.5 404h0M1947 396.9h0M1947 396.9h0M1947.4 382.7h0M1947.1 389.8h0M1946.5 382.7h0M1947.3 382.7h0M1947.1 382.7h0M1951 382.7h0M1944.1 375.6h0M1950.1 375.6h0M1948 375.6h0M1951.1 375.6h0M1946.5 368.5h0M1949.7 368.5h0M1951.7 361.4h0M1950.8 354.3h0M1953.4 354.3h0M1952.6 361.4h0M1950.8 347.2h0M1952 347.2h0M1956.3 361.4h0M1955.2 354.3h0M1954 345h0M1956 335h0M1957 328h0M1958 321h0M1959 315h0M1962.8 312.5h0M1963.5 305h0M1964 297.5h0"/>
<path fill="none" stroke="#d95319" stroke-width="10.4" stroke-linecap="round" d="M1400.5 635.4h0M1400.9 635.4h0M1402.9 635.4h0M1404.9 621.2h0M1401.9 628.3h0M1403.2 628.3h0M1408.1 628.3h0M1407.1 635.4h0M1407.3 621.2h0M1410.3 635.4h0M1408.8 621.2h0M1409.9 628.3h0M1409.9 628.3h0M1411 621.2h0M1412.3 621.2h0M1411.8 628.3h0M1415.3 621.2h0M1415.3 628.3h0M1416.9 628.3h0M1414.2 621.2h0M1421.8 635.4h0M1421.1 635.4h0M1421.1 621.2h0M1422.1 621.2h0M1425.8 621.2h0M1421.2 628.3h0M1423.3 621.2h0M1425.2 635.4h0M1427.5 635.4h0M1426.9 628.3h0M1427.6 635.4h0M1431.4 614.1h0M1431.5 628.3h0M1429.8 621.2h0M1430.9 621.2h0M1434.9 642.5h0M1436.5 635.4h0M1432.3 628.3h0M1435.7 621.2h0M1439.9 628.3h0M1438.2 621.2h0M1440.8 628.3h0M1439.7 628.3h0M1441.7 628.3h0M1444.2 621.2h0M1442.6 628.3h0M1444.6 635.4h0M1446.2 635.4h0M1444.3 635.4h0M1446.3 628.3h0M1449.9 635.4h0M1446.7 628.3h0M1450.6 635.4h0M1450.9 635.4h0M1453.5 621.2h0M1451.6 635.4h0M1454.1 628.3h0M1454.2 635.4h0M1456.3 628.3h0M1454.7 621.2h0M1460.3 635.4h0M1460.2 635.4h0M1459.1 635.4h0M1461.4 635.4h0M1462.2 628.3h0M1460.2 628.3h0M1464.7 621.2h0M1466 642.5h0M1465.5 628.3h0M1467.5 635.4h0M1466 628.3h0M1471.2 621.2h0M1469.3 628.3h0M1472.4 628.3h0M1470 635.4h0M1472.3 628.3h0M1473.4 621.2h0M1472.1 621.2h0M1475 635.4h0M1476.3 628.3h0M1477.3 621.2h0M1479.2 628.3h0M1478.5 628.3h0M1480.8 628.3h0M1480.4 635.4h0M1481 635.4h0M1483.9 628.3h0M1489.5 635.4h0M1484.5 628.3h0M1488.5 628.3h0M1486.4 628.3h0M1489.8 621.2h0M1490.4 642.5h0M1489.8 635.4h0M1490.2 628.3h0M1495.2 621.2h0M1492.9 621.2h0M1495.8 628.3h0M1496.7 621.2h0M1497.8 635.4h0M1499.4 635.4h0M1502.1 621.2h0M1503.6 628.3h0M1502.7 635.4h0M1506.7 628.3h0M1507.2 628.3h0M1507 628.3h0M1510.7 621.2h0M1507.4 621.2h0M1508.3 621.2h0M1512.1 628.3h0M1514.5 628.3h0M1513.1 628.3h0M1519 635.4h0M1520.1 635.4h0M1518.9 614.1h0M1515.8 621.2h0M1521.6 642.5h0M1518.7 621.2h0M1522.7 628.3h0M1523.6 628.3h0M1521.8 635.4h0M1522.7 628.3h0M1527.8 621.2h0M1522.7 628.3h0M1528.4 628.3h0M1524.1 621.2h0M1530.3 628.3h0M1529 621.2h0M1533.1 628.3h0M1532.8 621.2h0M1535.1 628.3h0M1536.1 628.3h0M1537.2 628.3h0M1537.9 628.3h0M1537.2 628.3h0M1536.9 628.3h0M1538.8 628.3h0M1541 635.4h0M1544.9 628.3h0M1543 635.4h0M1542.3 628.3h0M1544.8 628.3h0M1545.5 628.3h0M1546.5 628.3h0M1551.5 628.3h0M1549.6 621.2h0M1552.2 635.4h0M1549.9 635.4h0M1555.8 635.4h0M1553.5 621.2h0M1553.7 621.2h0M1556.2 628.3h0M1557.2 628.3h0M1557.5 614.1h0M1561.9 621.2h0M1560.9 628.3h0M1561 614.1h0M1562.4 628.3h0M1562.7 628.3h0M1564.5 628.3h0M1568.7 614.1h0M1564.8 621.2h0M1566.6 621.2h0M1568 614.1h0M1570.4 628.3h0M1571.9 614.1h0M1571.3 621.2h0M1571.4 621.2h0M1571.9 628.3h0M1572.5 607h0M1573.9 628.3h0M1574.7 614.1h0M1578.8 614.1h0M1576.3 614.1h0M1577.9 621.2h0M1581 607h0M1579.2 621.2h0M1581.8 607h0M1585 614.1h0M1582.4 621.2h0M1583.9 614.1h0M1584.9 614.1h0M1588.8 607h0M1587 607h0M1587.4 607h0M1587.8 599.9h0M1589.1 614.1h0M1590.8 614.1h0M1591.5 607h0M1595.1 607h0M1593 614.1h0M1596.8 607h0M1592.3 607h0M1599.6 614.1h0M1596.2 614.1h0M1598.1 607h0M1602.4 599.9h0M1599.5 599.9h0M1602 599.9h0M1601.8 592.8h0M1601 599.9h0M1601 599.9h0M1605.5 599.9h0M1603.8 599.9h0M1607.9 607h0M1607.1 607h0M1607 614.1h0M1606.5 607h0M1605.8 607h0M1607.9 607h0M1610 614.1h0M1611.8 592.8h0M1611 599.9h0M1613 599.9h0M1614.9 592.8h0M1614.6 599.9h0M1612.9 599.9h0M1616.1 592.8h0M1616.6 592.8h0M1618.2 599.9h0M1617.5 592.8h0M1621 592.8h0M1621.3 592.8h0M1624.3 599.9h0M1620.8 585.7h0M1626.4 599.9h0M1627.5 585.7h0M1625.7 592.8h0M1627.8 585.7h0M1629.3 599.9h0M1634.3 592.8h0M1630 599.9h0M1631.2 592.8h0M1634.8 592.8h0M1634 585.7h0M1631.1 592.8h0M1633.1 585.7h0M1634.9 585.7h0M1637.2 585.7h0M1639.9 599.9h0M1638.4 592.8h0M1641.6 592.8h0M1639.1 592.8h0M1640.8 592.8h0M1641.8 585.7h0M1644.4 592.8h0M1644.1 592.8h0M1646.1 599.9h0M1645 585.7h0M1647.2 592.8h0M1646.6 578.6h0M1650 578.6h0M1648.9 585.7h0M1652.4 592.8h0M1652.5 592.8h0M1652.5 585.7h0M1656.5 585.7h0M1655 585.7h0M1656.8 578.6h0M1655.2 585.7h0M1657.4 578.6h0M1658.4 578.6h0M1661.9 592.8h0M1663.4 578.6h0M1659.7 585.7h0M1664.3 578.6h0M1663.4 578.6h0M1666.1 578.6h0M1666.2 585.7h0M1667.2 578.6h0M1666.6 578.6h0M1668.8 578.6h0M1671.7 578.6h0M1671.9 571.5h0M1669.5 571.5h0M1671.9 578.6h0M1674.1 578.6h0M1670.8 571.5h0M1674.2 578.6h0M1675.7 571.5h0M1674.8 571.5h0M1676.2 571.5h0M1679.3 564.4h0M1675.6 564.4h0M1677.8 564.4h0M1681.4 571.5h0M1680.6 571.5h0M1682.4 571.5h0M1685.4 564.4h0M1685.2 571.5h0M1682.1 578.6h0M1686.8 564.4h0M1687.7 564.4h0M1686.5 571.5h0M1686.3 557.3h0M1691.4 564.4h0M1690.8 564.4h0M1693.4 571.5h0M1693.5 564.4h0M1691.5 564.4h0M1694.2 571.5h0M1696.8 564.4h0M1699.2 564.4h0M1697.2 557.3h0M1699.4 564.4h0M1698.5 557.3h0M1700.5 557.3h0M1704 557.3h0M1703.8 557.3h0M1703.6 564.4h0M1704.3 557.3h0M1707 550.2h0M1706 550.2h0M1706.7 557.3h0M1707.9 550.2h0M1710.5 543.1h0M1712.3 550.2h0M1711.4 550.2h0M1713.9 550.2h0M1714.3 543.1h0M1714 550.2h0M1715.9 557.3h0M1716.9 550.2h0M1718.6 543.1h0M1718 536h0M1718.4 543.1h0M1719.9 543.1h0M1720.4 543.1h0M1722.9 543.1h0M1724.5 543.1h0M1724.7 543.1h0M1721.2 536h0M1724.4 536h0M1725.2 528.9h0M1725.2 536h0M1728.8 521.8h0M1728.8 528.9h0M1727.4 528.9h0M1725.9 536h0M1727.3 521.8h0M1727.3 521.8h0M1729.7 521.8h0M1730.3 521.8h0M1732.2 528.9h0M1732.5 521.8h0M1734.8 514.7h0M1735.3 514.7h0M1734.4 507.6h0M1735.8 521.8h0M1734.6 521.8h0M1739.2 514.7h0M1739.3 507.6h0M1736.9 514.7h0M1740.7 500.5h0M1740.4 507.6h0M1740.2 507.6h0M1742.5 507.6h0M1739.3 500.5h0M1739.9 500.5h0M1744.2 500.5h0M1743.4 500.5h0M1749 493.4h0M1743.8 493.4h0M1746.6 500.5h0M1745 486.3h0M1747.7 493.4h0M1748 486.3h0M1748.5 479.2h0M1748.5 486.3h0M1747.4 493.4h0M1749.7 479.2h0M1750.6 486.3h0M1752 486.3h0M1753.3 479.2h0M1751.3 479.2h0M1750.7 486.3h0M1753 479.2h0M1756.3 479.2h0M1754.3 479.2h0M1757.2 472.1h0M1754.1 479.2h0M1759.6 465h0M1758.7 472.1h0M1757.8 465h0M1758.9 457.9h0M1758.3 465h0M1760.4 457.9h0M1761.5 465h0M1761.4 457.9h0M1761.9 450.8h0M1762.9 465h0M1762 457.9h0M1763 450.8h0M1764.6 443.7h0M1763.4 450.8h0M1763.9 436.6h0M1765.5 443.7h0M1762.5 436.6h0M1763.8 436.6h0M1765.6 436.6h0M1765.4 436.6h0M1764.1 429.5h0M1772.3 429.5h0M1765.2 429.5h0M1764.6 422.4h0M1768.1 415.3h0M1771.9 415.3h0M1770 408.2h0M1770.8 422.4h0M1768.4 422.4h0M1768.9 408.2h0M1766.8 415.3h0M1770.1 408.2h0M1768.8 408.2h0M1769.2 401.1h0M1769.3 401.1h0M1774.3 401.1h0M1772.6 401.1h0M1772.5 401.1h0M1774 394h0M1773.6 394h0M1775.9 394h0M1777.3 379.8h0M1773.3 379.8h0M1773.7 379.8h0M1776 379.8h0M1775.4 386.9h0M1773.5 386.9h0M1777 379.8h0M1779.4 372.7h0M1778.7 372.7h0M1778.9 365.6h0M1780.1 365.6h0M1780.8 372.7h0M1780.7 365.6h0M1779.7 358.5h0M1778.9 358.5h0M1779.3 351.4h0M1781 352.5h0M1783 337.5h0M1784.5 327h0M1786 317h0M1786.5 307.5h0M1789 287.5h0M1789.8 277.5h0M1792.8 262.5h0M1794 256h0M1795.3 250h0M1796 244h0M1797 237.5h0M1798.5 216.5h0"/>
<path fill="none" stroke="#7e2f8e" stroke-width="10.4" stroke-linecap="round" d="M1579.1 636.2h0M1580.8 629.1h0M1582 629.1h0M1582.4 636.2h0M1583.5 614.9h0M1585.4 650.4h0M1582.9 614.9h0M1585 636.2h0M1588.5 629.1h0M1586.5 629.1h0M1588.5 629.1h0M1592.6 629.1h0M1591.2 636.2h0M1593.5 629.1h0M1593.8 629.1h0M1591.5 636.2h0M1595.9 643.3h0M1597.6 636.2h0M1596.7 636.2h0M1598.6 629.1h0M1599.3 650.4h0M1601 650.4h0M1601.6 643.3h0M1603.4 643.3h0M1601.7 657.5h0M1605.2 643.3h0M1603.9 614.9h0M1607 614.9h0M1608.9 622h0M1605.9 629.1h0M1608 629.1h0M1611.1 622h0M1610.3 636.2h0M1611.3 614.9h0M1612.9 636.2h0M1616.5 636.2h0M1616 622h0M1617.8 622h0M1615.8 636.2h0M1618.5 622h0M1616.9 629.1h0M1619.4 622h0M1620.4 636.2h0M1622.2 614.9h0M1624.9 629.1h0M1628.1 629.1h0M1626 629.1h0M1626 629.1h0M1627.7 636.2h0M1626.2 636.2h0M1628.6 629.1h0M1628.9 636.2h0M1631 643.3h0M1630.8 636.2h0M1635.1 643.3h0M1631.8 629.1h0M1636.4 650.4h0M1635.6 650.4h0M1637.1 643.3h0M1635.8 629.1h0M1636 636.2h0M1641.1 629.1h0M1640.2 636.2h0M1643.8 629.1h0M1643.7 629.1h0M1643.9 643.3h0M1645.9 636.2h0M1643.7 636.2h0M1648.9 622h0M1650.3 636.2h0M1651 629.1h0M1651.5 629.1h0M1650 629.1h0M1650.4 636.2h0M1652.5 629.1h0M1654.8 650.4h0M1656.9 650.4h0M1656.8 629.1h0M1659.9 614.9h0M1657.4 629.1h0M1658.9 629.1h0M1660.4 629.1h0M1661.5 629.1h0M1660.9 622h0M1665.5 636.2h0M1667.3 636.2h0M1670.8 629.1h0M1665.6 636.2h0M1665.4 629.1h0M1668.4 657.5h0M1670.5 636.2h0M1669.3 636.2h0M1673.1 629.1h0M1672 622h0M1672.7 636.2h0M1675.1 636.2h0M1677.6 650.4h0M1677.4 636.2h0M1677.9 622h0M1682.4 643.3h0M1679.9 629.1h0M1681.7 636.2h0M1681 629.1h0M1681.7 643.3h0M1686.7 643.3h0M1687.3 629.1h0M1687.4 622h0M1688.2 643.3h0M1686.8 629.1h0M1692 629.1h0M1692.8 607.8h0M1695.7 636.2h0M1697.3 643.3h0M1696.8 650.4h0M1696.8 636.2h0M1697.3 636.2h0M1699.2 643.3h0M1699.7 636.2h0M1702.7 629.1h0M1701.9 629.1h0M1702 650.4h0M1703.2 643.3h0M1704 636.2h0M1707.4 650.4h0M1711.4 629.1h0M1709.6 650.4h0M1711.1 643.3h0M1713.9 629.1h0M1713.8 643.3h0M1715.3 643.3h0M1713.9 650.4h0M1717.3 636.2h0M1717.7 643.3h0M1720.5 643.3h0M1718.8 657.5h0M1722 636.2h0M1722 636.2h0M1724.4 636.2h0M1728.1 629.1h0M1726.5 636.2h0M1728.2 614.9h0M1729 643.3h0M1727.1 622h0M1726.8 629.1h0M1728.8 643.3h0M1731 614.9h0M1729.9 643.3h0M1734.2 643.3h0M1733.7 636.2h0M1734.2 643.3h0M1737.2 650.4h0M1737.6 643.3h0M1741.1 629.1h0M1738.7 622h0M1742.7 629.1h0M1744.1 607.8h0M1742.2 629.1h0M1742.8 622h0M1745 636.2h0M1744.9 629.1h0M1746.4 629.1h0M1746.9 629.1h0M1749.5 622h0M1748.3 629.1h0M1751.2 629.1h0M1752.1 629.1h0M1750.4 636.2h0M1752.4 607.8h0M1753.9 636.2h0M1753.8 614.9h0M1756 622h0M1752.4 622h0M1754.9 629.1h0M1760.3 636.2h0M1764 614.9h0M1760 622h0M1761.4 622h0M1761.9 607.8h0M1765.2 629.1h0M1765.1 614.9h0M1765.1 614.9h0M1766.4 614.9h0M1767.7 636.2h0M1767.2 614.9h0M1769.9 614.9h0M1767.4 629.1h0M1768.6 629.1h0M1773.5 622h0M1773.8 622h0M1774 614.9h0M1772.8 607.8h0M1772.4 614.9h0M1776 607.8h0M1776.4 629.1h0M1774.9 614.9h0M1782.2 600.7h0M1779.3 600.7h0M1782.3 614.9h0M1779.3 607.8h0M1784.8 614.9h0M1783.2 600.7h0M1783 607.8h0M1783.3 593.6h0M1786.7 607.8h0M1786.4 593.6h0M1785.2 607.8h0M1787.6 607.8h0M1787.5 614.9h0M1790.2 614.9h0M1792.7 614.9h0M1791 607.8h0M1792.1 607.8h0M1793 622h0M1792.6 614.9h0M1796.8 600.7h0M1797.8 614.9h0M1797.9 607.8h0M1798.8 607.8h0M1801.7 622h0M1798.9 607.8h0M1803.1 607.8h0M1801 600.7h0M1802.2 607.8h0M1804.8 607.8h0M1802.2 607.8h0M1806.7 607.8h0M1805.9 614.9h0M1805.8 614.9h0M1807.4 600.7h0M1809.9 614.9h0M1811.1 600.7h0M1813 614.9h0M1815.9 593.6h0M1816.3 600.7h0M1818.5 607.8h0M1816.9 593.6h0M1817 600.7h0M1820.3 593.6h0M1820.4 607.8h0M1821.1 614.9h0M1821.6 600.7h0M1822.5 593.6h0M1822.9 586.5h0M1823.6 614.9h0M1828 586.5h0M1825.8 600.7h0M1825.3 607.8h0M1827.4 614.9h0M1827.2 607.8h0M1832.2 607.8h0M1831 600.7h0M1831.5 600.7h0M1832 600.7h0M1833.6 600.7h0M1835.1 622h0M1833.4 593.6h0M1835.6 593.6h0M1836.7 600.7h0M1837 614.9h0M1837.9 607.8h0M1838.2 607.8h0M1841.5 593.6h0M1843.2 607.8h0M1843 600.7h0M1844.9 593.6h0M1843.2 600.7h0M1845.9 593.6h0M1849.6 593.6h0M1846.6 593.6h0M1847.8 586.5h0M1851.3 607.8h0M1848 614.9h0M1852.3 586.5h0M1850.6 586.5h0M1852.5 593.6h0M1852.4 600.7h0M1853.8 607.8h0M1854.2 586.5h0M1859.9 593.6h0M1854.9 593.6h0M1856.3 593.6h0M1863.2 586.5h0M1860 579.4h0M1858.7 593.6h0M1861.1 600.7h0M1861.3 593.6h0M1862.9 586.5h0M1864 586.5h0M1864.8 600.7h0M1866.6 586.5h0M1865.4 593.6h0M1867.3 600.7h0M1869.7 586.5h0M1868.9 593.6h0M1869 586.5h0M1870.7 579.4h0M1873 586.5h0M1874.6 593.6h0M1876.4 586.5h0M1871.8 586.5h0M1874.5 586.5h0M1877.7 586.5h0M1878.3 586.5h0M1879.2 586.5h0M1879 572.3h0M1881.3 593.6h0M1883.6 579.4h0M1883.5 572.3h0M1885 586.5h0M1887.4 586.5h0M1886.3 579.4h0M1888.7 558.1h0M1889.7 572.3h0M1889.9 579.4h0M1892.3 579.4h0M1891 565.2h0M1893.8 572.3h0M1896.1 579.4h0M1894.1 579.4h0M1894.9 565.2h0M1895.9 572.3h0M1894.7 572.3h0M1898.2 579.4h0M1899.1 572.3h0M1902.4 558.1h0M1899 572.3h0M1899.2 572.3h0M1903.1 572.3h0M1904.2 558.1h0M1903.9 579.4h0M1904.8 572.3h0M1909.7 579.4h0M1910.1 572.3h0M1909.2 579.4h0M1908.7 565.2h0M1913.4 565.2h0M1914.1 579.4h0M1911.5 565.2h0M1914.9 551h0M1916.1 586.5h0M1916.5 558.1h0M1921.3 565.2h0M1919.7 543.9h0M1919.2 558.1h0M1920.4 558.1h0M1919.1 558.1h0M1923.6 543.9h0M1923.1 543.9h0M1922.7 551h0M1926.7 558.1h0M1925.9 558.1h0M1927.8 558.1h0M1928.3 558.1h0M1929.2 543.9h0M1929.4 565.2h0M1932 551h0M1933.1 558.1h0M1933 558.1h0M1933.3 558.1h0M1932.9 543.9h0M1934.9 536.8h0M1937.9 536.8h0M1939.2 551h0M1940.3 551h0M1939.4 551h0M1941 558.1h0M1942.4 565.2h0M1939.7 529.7h0M1946 536.8h0M1945.1 543.9h0M1944.3 551h0M1948.2 529.7h0M1949.7 529.7h0M1948.6 536.8h0M1951.4 536.8h0M1947.7 536.8h0M1950.3 515.5h0M1950 529.7h0M1954.3 529.7h0M1952.3 536.8h0M1954.7 529.7h0M1960.5 522.6h0M1955.7 536.8h0M1956 536.8h0M1960.3 522.6h0M1958.6 522.6h0M1959.1 529.7h0M1959.8 522.6h0M1961.2 536.8h0M1962.1 522.6h0M1964.5 515.5h0M1965.6 522.6h0M1963.8 515.5h0M1966.1 522.6h0M1968.3 508.4h0M1966.6 515.5h0M1966.4 515.5h0M1969.9 515.5h0M1970.5 508.4h0M1972.1 515.5h0M1975.6 494.2h0M1970.5 515.5h0M1973.6 508.4h0M1972.3 501.3h0M1976.3 508.4h0M1973.1 501.3h0M1974.9 501.3h0M1977.8 494.2h0M1980 501.3h0M1978 508.4h0M1981.2 494.2h0M1982.7 487.1h0M1982.4 487.1h0M1982.3 487.1h0M1983.4 501.3h0M1983.9 494.2h0M1985.4 487.1h0M1985.4 494.2h0M1987.3 487.1h0M1985.8 472.9h0M1987.2 480h0M1987.9 480h0M1989.1 494.2h0M1989.4 472.9h0M1991.5 480h0M1990.4 472.9h0M1991 472.9h0M1991.7 480h0M1993.6 480h0M1991.6 472.9h0M1995.9 458.7h0M1994.6 465.8h0M1995 465.8h0M1998.6 458.7h0M1995 465.8h0M1996.9 465.8h0M1997.3 451.6h0M1995.4 465.8h0M1998 465.8h0M1999.1 451.6h0M1998.7 444.5h0M2000.8 458.7h0M1998.9 458.7h0M2000.8 458.7h0M2002.2 444.5h0M2001.1 444.5h0M2000.8 451.6h0M2001.2 451.6h0M2005.3 444.5h0M2002.3 444.5h0M2001.5 437.4h0M2001.6 437.4h0M2006.2 430.3h0M2003.7 423.2h0M2005.4 437.4h0M2004.1 430.3h0M2006.9 437.4h0M2007.7 437.4h0M2003.3 437.4h0M2008.7 437.4h0M2008.7 423.2h0M2009.9 423.2h0M2009.8 423.2h0M2009.8 416.1h0M2012 423.2h0M2013 409h0M2013.4 409h0M2009.7 423.2h0M2015.1 409h0M2014.6 409h0M2012.9 409h0M2015.5 416.1h0M2013.9 409h0M2017.9 401.9h0M2015.7 401.9h0M2016.3 394.8h0M2014.6 394.8h0M2017.3 401.9h0M2015.5 394.8h0M2018.5 394.8h0M2018.1 401.9h0M2020.1 394.8h0M2022.1 394.8h0M2019.1 387.7h0M2020 380.6h0M2023.8 387.7h0M2021.5 387.7h0M2021 373.5h0M2023.9 380.6h0M2021 380.6h0M2023.8 373.5h0M2023.3 380.6h0M2024.2 373.5h0M2024.1 373.5h0M2026.8 366.4h0M2024.4 366.4h0M2026.1 366.4h0M2025.1 373.5h0M2024.4 359.3h0M2027.8 360h0M2029 350h0M2029 342h0M2029 335h0M2032.8 322.5h0M2034 316h0M2037.8 310h0M2037 302.5h0M1868.3 613.2h0M1869.3 613.2h0M1871.5 606.1h0M1877.6 613.2h0M1877.9 606.1h0M1884 599h0M1889.8 599h0M1887.7 599h0M1894 591.9h0M1895.1 591.9h0M1897.7 591.9h0M1902.8 591.9h0M1906.4 584.8h0M1910.3 584.8h0M1913.3 584.8h0M1914.6 584.8h0M1915.1 584.8h0M1919.1 584.8h0M1924.1 577.7h0M1925.8 577.7h0M1931.1 577.7h0M1931.7 570.6h0M1932.2 570.6h0M1936.1 563.5h0M1938.1 570.6h0M1943.9 563.5h0M1948.1 556.4h0M1951.9 556.4h0M1952.9 549.3h0M1952.2 549.3h0M1955.5 549.3h0M1958.7 542.2h0M1962.6 542.2h0M1962.5 542.2h0M1965.8 535.1h0M1967.4 528h0M1831.9 620.3h0M1866 620.3h0M1763.8 633.8h0"/>
<path fill="none" stroke="#77ac30" stroke-width="10.4" stroke-linecap="round" d="M1555.8 643.3h0M1550.6 629.1h0M1550.2 629.1h0M1550.5 643.3h0M1554.3 607.8h0M1559.9 622h0M1553.8 629.1h0M1558.8 629.1h0M1556.7 643.3h0M1559.3 629.1h0M1557.9 622h0M1560.8 636.2h0M1564.2 636.2h0M1565.3 636.2h0M1566.7 636.2h0M1566.4 622h0M1566.2 622h0M1567.2 629.1h0M1568.4 629.1h0M1569.4 622h0M1572 629.1h0M1573.9 629.1h0M1573.5 643.3h0M1574.3 622h0M1577.1 629.1h0M1579.4 622h0M1578 636.2h0M1580.4 622h0M1582.5 622h0M1579.8 629.1h0M1582.2 629.1h0M1582.8 614.9h0M1584.5 622h0M1584.4 629.1h0M1585.8 629.1h0M1588.3 636.2h0M1588.3 629.1h0M1588.6 629.1h0M1589.8 622h0M1591.3 636.2h0M1594 629.1h0M1593.8 636.2h0M1598.5 622h0M1598.7 629.1h0M1602.5 636.2h0M1601.8 622h0M1601.2 636.2h0M1603.5 629.1h0M1600.7 622h0M1604.8 629.1h0M1604.7 636.2h0M1605.9 636.2h0M1603.6 636.2h0M1608.5 629.1h0M1608 636.2h0M1608.9 622h0M1609.5 607.8h0M1608.5 629.1h0M1615.2 629.1h0M1614.8 629.1h0M1615.4 614.9h0M1616.8 622h0M1617.7 629.1h0M1620.6 636.2h0M1620.4 614.9h0M1620.5 636.2h0M1624.6 636.2h0M1623.3 622h0M1625.1 629.1h0M1628.1 607.8h0M1627 622h0M1627.1 622h0M1625.8 629.1h0M1627.3 622h0M1632.6 622h0M1631.3 614.9h0M1629.6 629.1h0M1636.8 614.9h0M1636.5 629.1h0M1641.2 636.2h0M1636.9 636.2h0M1640.4 629.1h0M1640.7 614.9h0M1642 622h0M1640.7 622h0M1644.3 643.3h0M1644.6 622h0M1646.2 622h0M1646.1 629.1h0M1649.5 636.2h0M1647.3 629.1h0M1650.1 629.1h0M1651 636.2h0M1651 629.1h0M1653.9 614.9h0M1655 629.1h0M1655.5 636.2h0M1654.4 607.8h0M1657.3 636.2h0M1660.5 622h0M1662.4 629.1h0M1661.9 629.1h0M1659.1 622h0M1664.1 622h0M1662.8 600.7h0M1665.5 629.1h0M1667.8 614.9h0M1664.9 636.2h0M1668.2 629.1h0M1669 636.2h0M1669.5 622h0M1669.3 614.9h0M1670.1 629.1h0M1675.8 622h0M1676.4 622h0M1675.8 600.7h0M1675.1 636.2h0M1677.4 629.1h0M1680.6 629.1h0M1679.9 622h0M1680.4 614.9h0M1681.3 622h0M1682.6 607.8h0M1684.5 629.1h0M1685.1 614.9h0M1682.9 622h0M1684.2 614.9h0M1686.8 622h0M1686.4 622h0M1691 622h0M1687.9 622h0M1691 614.9h0M1690.1 614.9h0M1691.9 614.9h0M1693.5 614.9h0M1696.9 607.8h0M1695.6 614.9h0M1699.2 614.9h0M1697.8 629.1h0M1699 614.9h0M1698.6 614.9h0M1701.6 614.9h0M1702.9 629.1h0M1703.6 629.1h0M1706.4 607.8h0M1700.7 629.1h0M1705.7 614.9h0M1703.7 593.6h0M1710.4 622h0M1707.2 614.9h0M1712.6 607.8h0M1711.7 600.7h0M1711.3 600.7h0M1713.3 607.8h0M1714.5 614.9h0M1713.3 607.8h0M1716.2 607.8h0M1719.9 600.7h0M1719.2 622h0M1717.8 607.8h0M1717.9 607.8h0M1720.3 614.9h0M1719.9 614.9h0M1721.6 607.8h0M1724.4 600.7h0M1725.2 607.8h0M1725.4 607.8h0M1723.8 600.7h0M1727.2 600.7h0M1728.4 614.9h0M1727.7 607.8h0M1727.6 600.7h0M1729.8 614.9h0M1731.1 614.9h0M1731.4 600.7h0M1729.3 607.8h0M1733.7 607.8h0M1733.1 593.6h0M1739.3 614.9h0M1740.5 600.7h0M1739.6 607.8h0M1737.4 607.8h0M1737.7 614.9h0M1739.8 607.8h0M1739.8 607.8h0M1745.1 607.8h0M1742.3 622h0M1746 593.6h0M1744.5 600.7h0M1744.3 614.9h0M1743 607.8h0M1749.3 607.8h0M1748.5 593.6h0M1750.3 600.7h0M1751.4 607.8h0M1751.4 586.5h0M1749.9 607.8h0M1752.6 600.7h0M1755.4 600.7h0M1757.4 593.6h0M1754.3 593.6h0M1754.6 593.6h0M1757.4 600.7h0M1759.8 586.5h0M1761 593.6h0M1760 579.4h0M1762.3 593.6h0M1761.8 593.6h0M1760.7 586.5h0M1765.3 586.5h0M1765.9 586.5h0M1764.7 579.4h0M1764.6 586.5h0M1763.7 593.6h0M1768.6 586.5h0M1767.7 593.6h0M1767.8 579.4h0M1770.8 593.6h0M1770.7 579.4h0M1774.9 586.5h0M1772.8 579.4h0M1774.4 579.4h0M1775.2 593.6h0M1775.9 565.2h0M1778.7 579.4h0M1776.5 579.4h0M1777.4 579.4h0M1778.3 579.4h0M1781.9 572.3h0M1781.9 565.2h0M1783.2 579.4h0M1783.5 579.4h0M1783.1 565.2h0M1783.4 586.5h0M1786.2 565.2h0M1787.7 565.2h0M1787 558.1h0M1787.6 558.1h0M1787.8 572.3h0M1792.6 558.1h0M1793.7 565.2h0M1793.6 565.2h0M1793.9 572.3h0M1792.7 551h0M1795.6 551h0M1794.9 551h0M1797.8 558.1h0M1796.7 565.2h0M1797.2 558.1h0M1798 565.2h0M1799.1 543.9h0M1801.7 543.9h0M1800.1 543.9h0M1802.7 543.9h0M1805.2 551h0M1804.3 543.9h0M1803.6 551h0M1805.3 543.9h0M1807.4 543.9h0M1806.8 543.9h0M1807.9 543.9h0M1807.8 543.9h0M1808.5 529.7h0M1808.4 536.8h0M1811.4 529.7h0M1810.4 522.6h0M1812.7 536.8h0M1813.5 536.8h0M1815.7 522.6h0M1817 536.8h0M1814.8 522.6h0M1819.1 522.6h0M1819.6 522.6h0M1816.7 515.5h0M1819.9 536.8h0M1820 522.6h0M1822.6 515.5h0M1820.9 515.5h0M1825.6 522.6h0M1824.3 508.4h0M1822.6 515.5h0M1824.9 515.5h0M1823.2 522.6h0M1827.2 508.4h0M1825.1 508.4h0M1827 501.3h0M1827.2 508.4h0M1828.6 508.4h0M1828.4 515.5h0M1831.6 508.4h0M1831.1 508.4h0M1831.7 494.2h0M1830.2 508.4h0M1832.7 501.3h0M1831.4 501.3h0M1833.7 501.3h0M1833.7 494.2h0M1833.8 508.4h0M1834 508.4h0M1835.4 501.3h0M1834.1 487.1h0M1838.3 494.2h0M1838.8 480h0M1838.7 494.2h0M1839.9 494.2h0M1840.8 480h0M1840.7 487.1h0M1840.3 480h0M1839.9 487.1h0M1844.9 487.1h0M1844.7 480h0M1844 480h0M1844.5 480h0M1844.3 480h0M1846.2 472.9h0M1849.4 472.9h0M1845 465.8h0M1846.5 472.9h0M1846 472.9h0M1850.1 465.8h0M1849.5 472.9h0M1850.3 465.8h0M1851.4 465.8h0M1855.3 458.7h0M1853.7 444.5h0M1853.5 451.6h0M1854.4 451.6h0M1853.2 458.7h0M1853.6 451.6h0M1855 444.5h0M1856 451.6h0M1859.5 444.5h0M1855 444.5h0M1860 444.5h0M1859.5 444.5h0M1856.2 430.3h0M1859.1 430.3h0M1857 437.4h0M1859.6 437.4h0M1861.6 430.3h0M1860 430.3h0M1859.6 430.3h0M1863.5 430.3h0M1863.1 423.2h0M1865.9 416.1h0M1863.1 430.3h0M1863.6 423.2h0M1862.9 423.2h0M1865.6 416.1h0M1865.6 409h0M1864.9 409h0M1867.4 409h0M1867.9 409h0M1866.6 401.9h0M1869.6 401.9h0M1868.5 409h0M1869.3 401.9h0M1870 401.9h0M1866.7 387.7h0M1871.2 394.8h0M1868.6 401.9h0M1870.9 394.8h0M1870.4 380.6h0M1868.6 394.8h0M1871.4 387.7h0M1871 380.6h0M1873.5 380.6h0M1873.6 380.6h0M1876.4 373.5h0M1874.1 380.6h0M1876.3 366.4h0M1876 366.4h0M1876.3 366.4h0M1873.1 373.5h0M1878.2 359.3h0M1877 359.3h0M1879.6 359.3h0M1878.4 366.4h0M1880.5 345.1h0M1877 352.2h0M1879.4 345.1h0M1879.1 345.1h0M1882.6 352.2h0M1879.1 345.1h0M1883.1 345.1h0M1882 340h0M1883 335h0M1884 325h0M1886 300h0M1887 292h0M1888 285h0M1889 277.5h0M1891.5 258.8h0M1891.5 246.3h0M1892.8 218.8h0M1896.5 212.5h0M1898.5 185h0M1899.8 177.5h0M1902.8 165h0M1902.3 157.5h0M1905 140h0M1905.3 132h0M1905.3 125h0"/>
<text transform="translate(1343.4 138) scale(1 1.012)" font-size="50.8" text-anchor="end" fill="#262626">600</text>
<text transform="translate(1343.4 318) scale(1 1.012)" font-size="50.8" text-anchor="end" fill="#262626">400</text>
<text transform="translate(1343.4 498) scale(1 1.012)" font-size="50.8" text-anchor="end" fill="#262626">200</text>
<text transform="translate(1343.4 678) scale(1 1.012)" font-size="50.8" text-anchor="end" fill="#262626">0</text>
<text transform="translate(1484.8 737.4) scale(1 1.012)" font-size="50.8" text-anchor="middle" fill="#262626">100</text>
<text transform="translate(1688.8 737.4) scale(1 1.012)" font-size="50.8" text-anchor="middle" fill="#262626">150</text>
<text transform="translate(1892.9 737.4) scale(1 1.012)" font-size="50.8" text-anchor="middle" fill="#262626">200</text>
<text transform="translate(2096.8 737.4) scale(1 1.012)" font-size="50.8" text-anchor="middle" fill="#262626">250</text>
<text transform="translate(1232.3 525.6) rotate(-90) scale(1 1.045)" font-size="55.9" text-anchor="start" fill="#262626">Force (pN)</text>
<text transform="translate(1588.5 811.2) scale(1 1.045)" font-size="55.9" text-anchor="start" fill="#262626">Extension (nm)</text>
<text transform="translate(1151.8 154.6) scale(1 1.05)" font-size="57.7" text-anchor="start" fill="#000000">b)</text>
<text transform="translate(1542.5 61.9) scale(1 1.04)" font-size="50.8" text-anchor="start" fill="#000000">Polystyrene</text>
</g>
<g id="panel-c">
<path fill="#262626" d="M263.1 872.4H1043.1V879.6H263.1ZM263.1 1524.4H1043.1V1531.6H263.1ZM263.1 872.4H270.3V1531.6H263.1ZM1035.9 872.4H1043.1V1531.6H1035.9ZM309.8 1516.6H317.2V1525.4H309.8ZM309.8 878.6H317.2V887.4H309.8ZM506.3 1516.6H513.7V1525.4H506.3ZM506.3 878.6H513.7V887.4H506.3ZM702.5 1516.6H709.9V1525.4H702.5ZM702.5 878.6H709.9V887.4H702.5ZM899 1516.6H906.4V1525.4H899ZM899 878.6H906.4V887.4H899ZM269.3 1002.8H278.1V1010.2H269.3ZM1028.1 1002.8H1036.9V1010.2H1028.1ZM269.3 1133.1H278.1V1140.5H269.3ZM1028.1 1133.1H1036.9V1140.5H1028.1ZM269.3 1263.3H278.1V1270.7H269.3ZM1028.1 1263.3H1036.9V1270.7H1028.1ZM269.3 1393.6H278.1V1401H269.3ZM1028.1 1393.6H1036.9V1401H1028.1Z"/>
<path fill="none" stroke="#000000" stroke-width="20" stroke-linecap="round" d="M268.1 1395.4h0M269.7 1395.3h0M271.3 1395.2h0M272.9 1395h0M274.5 1394.9h0M276.1 1394.8h0M277.7 1394.6h0M279.3 1394.5h0M280.9 1394.4h0M282.4 1394.2h0M284 1394.1h0M285.6 1394h0M287.2 1393.9h0M288.8 1393.9h0M290.4 1394h0M292 1394.2h0M293.6 1394.3h0M295.2 1394.4h0M296.8 1394.5h0M298.4 1394.7h0M300 1394.7h0M301.6 1394.6h0M303.2 1394.5h0M304.8 1394.4h0M306.4 1394.2h0M308 1394.1h0M309.6 1393.9h0M311.2 1393.8h0M312.8 1393.7h0M314.4 1393.5h0M315.9 1393.4h0M317.5 1393.2h0M319.1 1393.2h0M320.7 1393.5h0M322.2 1394.1h0M323.6 1394.8h0M325.1 1395.5h0M326.5 1396.2h0M327.9 1397h0M329.4 1397.7h0M330.8 1398.4h0M332.2 1399.1h0M333.6 1399.8h0M335.1 1400.5h0M336.5 1401.3h0M337.9 1402h0M339.5 1402.5h0M341 1402.6h0M342.6 1402.4h0M344.2 1402h0M345.7 1401.6h0M347.3 1401.2h0M348.8 1400.8h0M350.4 1400.4h0M351.9 1400.1h0M353.5 1399.7h0M355 1399.2h0M356.5 1398.7h0M358 1398.1h0M359.5 1397.4h0M361 1396.8h0M362.4 1396.2h0M363.9 1395.6h0M365.4 1395h0M366.9 1394.4h0M368.4 1393.8h0M369.8 1393.2h0M371.3 1392.6h0M372.8 1391.9h0M374.3 1391.3h0M375.8 1390.7h0M377.3 1390.4h0M378.9 1390.4h0M380.5 1390.6h0M382.1 1390.9h0M383.6 1391.2h0M385.2 1391.5h0M386.8 1391.9h0M388.3 1392.2h0M389.9 1392.5h0M391.5 1392.8h0M393 1393.1h0M394.6 1393.4h0M396.2 1393.7h0M397.8 1394h0M399.3 1394.3h0M400.9 1394.6h0M402.5 1394.9h0M404 1395.2h0M405.6 1395.5h0M407.2 1395.8h0M408.8 1396.1h0M410.3 1396.4h0M411.9 1396.7h0M413.4 1397.2h0M415 1397.7h0M416.5 1398.2h0M418 1398.7h0M419.5 1399.3h0M421 1399.8h0M422.5 1400.3h0M424 1400.9h0M425.5 1401.4h0M427 1401.9h0M428.5 1402.5h0M430.1 1402.9h0M431.7 1403.1h0M433.3 1403.3h0M434.8 1403.4h0M436.4 1403.6h0M438 1403.7h0M439.6 1403.9h0M441.2 1404h0M442.8 1404.2h0M444.4 1404.3h0M446 1404.4h0M447.6 1404.6h0M449.2 1404.6h0M450.8 1404.6h0M452.4 1404.3h0M453.9 1404h0M455.5 1403.7h0M457.1 1403.4h0M458.6 1403.1h0M460.2 1402.8h0M461.8 1402.4h0M463.4 1402.1h0M464.9 1401.9h0M466.5 1401.6h0M468.1 1401.4h0M469.7 1401.2h0M471.3 1401h0M472.9 1400.8h0M474.4 1400.5h0M476 1400.3h0M477.6 1400.1h0M479.2 1399.9h0M480.8 1399.8h0M482.4 1399.8h0M484 1399.8h0M485.6 1399.8h0M487.2 1399.8h0M488.8 1399.8h0M490.4 1399.8h0M492 1399.8h0M493.6 1399.8h0M495.2 1399.8h0M496.8 1399.8h0M498.4 1399.8h0M500 1399.8h0M501.6 1399.8h0M503.2 1399.8h0M504.8 1399.5h0M506.2 1398.9h0M507.6 1398h0M508.9 1397.1h0M510.2 1396.2h0M511.6 1395.3h0M512.9 1394.4h0M514.3 1393.6h0M515.7 1392.8h0M517.1 1392.2h0M518.6 1391.7h0M520.1 1391.1h0M521.6 1390.5h0M523.1 1390h0M524.7 1389.7h0M526.3 1389.8h0M527.9 1390.1h0M529.4 1390.6h0M530.9 1391.1h0M532.5 1391.5h0M534 1392h0M535.5 1392.4h0M537.1 1392.8h0M538.7 1393.1h0M540.2 1393.4h0M541.8 1393.6h0M543.4 1393.8h0M545 1394.1h0M546.6 1394.3h0M548.2 1394.5h0M549.7 1394.8h0M551.3 1395.1h0M552.9 1395.3h0M554.5 1395.6h0M556 1395.9h0M557.6 1396.2h0M559.2 1396.5h0M560.7 1396.8h0M562.3 1397.2h0M563.9 1397.5h0M565.4 1397.8h0M567 1398.1h0M568.6 1398.4h0M570.2 1398.7h0M571.7 1399h0M573.3 1399.1h0M574.9 1399.1h0M576.5 1398.9h0M578.1 1398.7h0M579.7 1398.5h0M581.3 1398.3h0M582.9 1398.1h0M584.5 1397.9h0M586 1397.7h0M587.6 1397.3h0M589 1396.6h0M590.4 1395.7h0M591.6 1394.8h0M592.9 1393.8h0M594.2 1392.9h0M595.5 1391.9h0M596.8 1390.9h0M598 1389.9h0M599.2 1388.9h0M600.5 1387.9h0M601.7 1386.8h0M602.9 1385.8h0M604.1 1384.7h0M605.3 1383.7h0M606.5 1382.6h0M607.8 1381.8h0M609.3 1381.1h0M610.9 1380.8h0M612.4 1380.5h0M614 1380.2h0M615.6 1379.9h0M617.2 1379.8h0M618.8 1379.8h0M620.4 1380.1h0M621.9 1380.5h0M623.5 1380.9h0M625 1381.3h0M626.6 1381.7h0M628.1 1382.2h0M629.5 1382.9h0M630.9 1383.7h0M632.3 1384.6h0M633.6 1385.4h0M635 1386.2h0M636.4 1387h0M637.9 1387.6h0M639.4 1387.9h0M641 1387.9h0M642.6 1387.9h0M644.2 1387.8h0M645.8 1387.8h0M647.4 1387.8h0M649 1387.7h0M650.6 1387.7h0M652.2 1387.6h0M653.8 1387.6h0M655.4 1387.6h0M657 1387.4h0M658.6 1387h0M660 1386.3h0M661.4 1385.4h0M662.7 1384.6h0M664.1 1383.7h0M665.4 1382.9h0M666.8 1382.1h0M668.2 1381.3h0M669.6 1380.5h0M671 1379.8h0M672.5 1379.1h0M673.9 1378.4h0M675.3 1377.6h0M676.8 1377h0M678.3 1376.7h0M679.9 1376.7h0M681.5 1377h0M683.1 1377.3h0M684.7 1377.6h0M686.2 1377.9h0M687.8 1378.3h0M689.4 1378.5h0M691 1378.5h0M692.5 1378.2h0M694.1 1377.7h0M695.6 1377.2h0M697.1 1376.8h0M698.7 1376.3h0M700.2 1375.9h0M701.7 1375.4h0M703.2 1374.8h0M704.7 1374.2h0M706.1 1373.5h0M707.6 1372.7h0M709 1372h0M710.4 1371.3h0M711.9 1370.6h0M713.3 1369.9h0M714.8 1369.3h0M716.3 1368.8h0M717.9 1368.6h0M719.5 1368.4h0M721 1368.2h0M722.6 1368.1h0M724.2 1367.9h0M725.8 1367.7h0M727.4 1367.4h0M728.9 1367h0M730.4 1366.4h0M731.9 1365.8h0M733.3 1365.1h0M734.8 1364.5h0M736.3 1363.8h0M737.7 1363.2h0M739.2 1362.5h0M740.6 1361.8h0M742.2 1361.3h0M743.7 1361h0M745.3 1361h0M746.9 1361.1h0M748.5 1361.2h0M750.1 1361.3h0M751.7 1361.4h0M753.3 1361.5h0M754.9 1361.6h0M756.5 1361.7h0M758.1 1361.7h0M759.7 1361.5h0M761.3 1361.3h0M762.9 1361.1h0M764.4 1360.9h0M766 1360.6h0M767.6 1360.4h0M769.2 1360.2h0M770.8 1359.8h0M772.3 1359.4h0M773.8 1358.9h0M775.3 1358.4h0M776.8 1357.9h0M778.4 1357.4h0M779.9 1356.8h0M781.4 1356.4h0M783 1356h0M784.5 1355.8h0M786.1 1355.8h0M787.7 1355.8h0M789.3 1355.8h0M790.9 1355.8h0M792.5 1355.8h0M794.1 1355.8h0M795.7 1355.8h0M797.3 1355.8h0M798.9 1355.8h0M800.5 1355.8h0M802.1 1355.7h0M803.7 1355.5h0M805.3 1355.2h0M806.8 1354.7h0M808.4 1354.3h0M809.9 1353.9h0M811.4 1353.4h0M813 1352.9h0M814.4 1352.3h0M815.9 1351.6h0M817.3 1350.9h0M818.8 1350.2h0M820.2 1349.5h0M821.7 1348.8h0M823.1 1348.2h0M824.6 1347.5h0M826.1 1347h0M827.6 1346.6h0M829.2 1346.3h0M830.8 1345.9h0M832.3 1345.6h0M833.9 1345.3h0M835.5 1345.2h0M837.1 1345.2h0M838.7 1345.4h0M840.3 1345.6h0M841.9 1345.8h0M843.4 1346h0M845 1346.3h0M846.6 1346.5h0M848.2 1346.8h0M849.8 1347h0M851.3 1347.3h0M852.9 1347.6h0M854.5 1347.7h0M856.1 1347.8h0M857.7 1347.6h0M859.3 1347.3h0M860.9 1347.1h0M862.4 1346.8h0M864 1346.5h0M865.6 1346.2h0M867.2 1346h0M868.8 1346h0M870.4 1346.1h0M872 1346.3h0M873.5 1346.5h0M875.1 1346.7h0M876.7 1346.8h0M878.3 1347h0M879.9 1347.2h0M881.5 1347.3h0M883.1 1347.5h0M884.7 1347.7h0M886.3 1347.8h0M887.9 1347.8h0M889.4 1347.5h0M891 1347.1h0M892.5 1346.6h0M894.1 1346.2h0M895.6 1345.7h0M897.1 1345.2h0M898.5 1344.3h0M899.7 1343.3h0M900.8 1342.2h0M901.9 1341.1h0M903.1 1339.9h0M904.2 1338.8h0M905.3 1337.6h0M906.4 1336.5h0M907.4 1335.2h0M908.5 1334h0M909.5 1332.8h0M910.6 1331.6h0M911.6 1330.4h0M912.7 1329.2h0M913.8 1328h0M914.9 1326.9h0M916 1325.8h0M917.2 1324.6h0M918.3 1323.5h0M919.4 1322.4h0M920.7 1321.4h0M922 1320.5h0M923.4 1319.6h0M924.8 1318.8h0M926.1 1318h0M927.5 1317.2h0M928.9 1316.4h0M930.3 1315.7h0M931.8 1315.1h0M933.3 1314.5h0M934.8 1314h0M936.3 1313.5h0M937.8 1312.9h0M939.3 1312.4h0M940.8 1311.7h0M942.2 1311h0M943.6 1310.2h0M945 1309.4h0M946.4 1308.6h0M947.8 1307.8h0M949.2 1307h0M950.5 1306.1h0M951.8 1305.2h0M953 1304.1h0M954.2 1303.1h0M955.4 1302h0M956.6 1301h0M957.8 1299.9h0M959 1298.8h0M960.1 1297.7h0M961.1 1296.4h0M962 1295.1h0M962.9 1293.8h0M963.7 1292.4h0M964.6 1291.1h0M965.4 1289.7h0M966.2 1288.3h0M966.9 1286.9h0M967.6 1285.4h0M968.1 1283.9h0M968.7 1282.4h0M969.3 1280.9h0M969.8 1279.4h0M970.4 1277.9h0M970.9 1276.4h0M971.3 1274.9h0M971.7 1273.3h0M972.1 1271.8h0M972.5 1270.2h0M972.9 1268.7h0M973.3 1267.1h0M973.6 1265.6h0M974 1264h0M974.3 1262.4h0M974.6 1260.9h0M974.9 1259.3h0M975.2 1257.7h0M975.5 1256.2h0M975.8 1254.6h0M976.1 1253h0M976.4 1251.4h0M976.6 1249.9h0M976.9 1248.3h0M977.1 1246.7h0M977.4 1245.1h0M977.6 1243.5h0M978 1241.3h0M980.3 1227h0M983 1211.8h0M985.3 1193.8h0M987.3 1174.3h0M988.8 1153.3h0M990 1132h0M991.3 1109.3h0M994 1083.8h0M997.5 1056.3h0M1009 1025h0M1011.1 992h0M1013.9 963.1h0M1015.9 941.4h0"/>
<text transform="translate(246.9 896.1) scale(1 1.012)" font-size="50.8" text-anchor="end" fill="#262626">80</text>
<text transform="translate(246.9 1026.4) scale(1 1.012)" font-size="50.8" text-anchor="end" fill="#262626">60</text>
<text transform="translate(246.9 1156.7) scale(1 1.012)" font-size="50.8" text-anchor="end" fill="#262626">40</text>
<text transform="translate(246.9 1286.9) scale(1 1.012)" font-size="50.8" text-anchor="end" fill="#262626">20</text>
<text transform="translate(246.9 1417.2) scale(1 1.012)" font-size="50.8" text-anchor="end" fill="#262626">0</text>
<text transform="translate(246.9 1547.5) scale(1 1.012)" font-size="50.8" text-anchor="end" fill="#262626">-20</text>
<text transform="translate(313.2 1600.6) scale(1 1.012)" font-size="50.8" text-anchor="middle" fill="#262626">40</text>
<text transform="translate(509.7 1600.6) scale(1 1.012)" font-size="50.8" text-anchor="middle" fill="#262626">60</text>
<text transform="translate(705.9 1600.6) scale(1 1.012)" font-size="50.8" text-anchor="middle" fill="#262626">80</text>
<text transform="translate(902.4 1600.6) scale(1 1.012)" font-size="50.8" text-anchor="middle" fill="#262626">100</text>
<text transform="translate(109.4 1404.2) rotate(-90) scale(1 1.045)" font-size="55.9" text-anchor="start" fill="#262626">Stiffness (mN/m)</text>
<text transform="translate(449.8 1663) scale(1 1.045)" font-size="55.9" text-anchor="start" fill="#262626">Extension (nm)</text>
<text transform="translate(51.4 880.6) scale(1 1.05)" font-size="57.7" text-anchor="start" fill="#000000">c)</text>
</g>
<g id="panel-d">
<path fill="#262626" d="M1376.1 864.1H2209.1V871.1H1376.1ZM1376.1 1498.9H2209.1V1505.9H1376.1ZM1376.1 864.1H1383.1V1505.9H1376.1ZM2202.1 864.1H2209.1V1505.9H2202.1ZM1391.9 1490.9H1398.9V1499.9H1391.9ZM1391.9 870.1H1398.9V879.1H1391.9ZM1707.1 1490.9H1714.1V1499.9H1707.1ZM1707.1 870.1H1714.1V879.1H1707.1ZM2023.3 1490.9H2030.3V1499.9H2023.3ZM2023.3 870.1H2030.3V879.1H2023.3ZM1382.1 894.1H1391.1V901.1H1382.1ZM2194.1 894.1H2203.1V901.1H2194.1ZM1382.1 1015.1H1391.1V1022.1H1382.1ZM2194.1 1015.1H2203.1V1022.1H2194.1ZM1382.1 1135.8H1391.1V1142.8H1382.1ZM2194.1 1135.8H2203.1V1142.8H2194.1ZM1382.1 1256.5H1391.1V1263.5H1382.1ZM2194.1 1256.5H2203.1V1263.5H2194.1ZM1382.1 1377.2H1391.1V1384.2H1382.1ZM2194.1 1377.2H2203.1V1384.2H2194.1Z"/>
<path fill="none" stroke="#000000" stroke-width="20.2" stroke-linecap="round" d="M1396.9 1384.5h0M1398.5 1384.4h0M1400.1 1384.4h0M1401.7 1384.3h0M1403.3 1384.3h0M1404.9 1384.2h0M1406.5 1384.2h0M1408.1 1384.2h0M1409.7 1384.1h0M1411.3 1384.1h0M1412.9 1384h0M1414.5 1384h0M1416.1 1383.9h0M1417.7 1383.9h0M1419.3 1383.8h0M1420.9 1383.7h0M1422.5 1383.5h0M1424.1 1383.3h0M1425.6 1383.1h0M1427.2 1382.9h0M1428.8 1382.7h0M1430.4 1382.5h0M1432 1382.3h0M1433.6 1382.1h0M1435.2 1381.9h0M1436.8 1381.7h0M1438.3 1381.5h0M1439.9 1381.3h0M1441.5 1381.1h0M1443.1 1380.9h0M1444.7 1380.7h0M1446.3 1380.5h0M1447.9 1380.3h0M1449.5 1380.1h0M1451.1 1380.1h0M1452.7 1380.1h0M1454.3 1380.2h0M1455.9 1380.3h0M1457.5 1380.4h0M1459.1 1380.5h0M1460.7 1380.5h0M1462.3 1380.6h0M1463.8 1380.7h0M1465.4 1380.8h0M1467 1380.9h0M1468.6 1380.9h0M1470.2 1381h0M1471.8 1381.1h0M1473.4 1381.2h0M1475 1381.3h0M1476.6 1381.3h0M1478.2 1381.4h0M1479.8 1381.5h0M1481.4 1381.6h0M1483 1381.8h0M1484.6 1382h0M1486.2 1382.1h0M1487.8 1382.3h0M1489.4 1382.4h0M1491 1382.6h0M1492.6 1382.8h0M1494.2 1382.9h0M1495.8 1383.1h0M1497.3 1383.2h0M1498.9 1383.4h0M1500.5 1383.6h0M1502.1 1383.7h0M1503.7 1383.9h0M1505.3 1384h0M1506.9 1384.2h0M1508.5 1384.3h0M1510.1 1384.5h0M1511.7 1384.7h0M1513.3 1384.8h0M1514.9 1385h0M1516.4 1385.1h0M1518 1385.3h0M1519.6 1385.5h0M1521.2 1385.6h0M1522.8 1385.8h0M1524.4 1385.9h0M1526 1386.1h0M1527.6 1386.3h0M1529.2 1386.4h0M1530.8 1386.6h0M1532.4 1386.7h0M1534 1386.9h0M1535.6 1386.9h0M1537.2 1386.8h0M1538.8 1386.6h0M1540.3 1386.5h0M1541.9 1386.3h0M1543.5 1386.1h0M1545.1 1386h0M1546.7 1385.8h0M1548.3 1385.7h0M1549.9 1385.5h0M1551.5 1385.4h0M1553.1 1385.2h0M1554.7 1385h0M1556.2 1384.7h0M1557.8 1384.3h0M1559.3 1383.9h0M1560.9 1383.5h0M1562.4 1383.1h0M1564 1382.7h0M1565.5 1382.3h0M1567.1 1381.9h0M1568.6 1381.5h0M1570.2 1381.1h0M1571.7 1380.7h0M1573.3 1380.3h0M1574.8 1379.9h0M1576.4 1379.6h0M1578 1379.2h0M1579.5 1378.8h0M1581.1 1378.4h0M1582.6 1378.1h0M1584.2 1377.7h0M1585.7 1377.3h0M1587.3 1376.9h0M1588.9 1376.6h0M1590.5 1376.5h0M1592.1 1376.6h0M1593.6 1376.8h0M1595.2 1377h0M1596.8 1377.3h0M1598.4 1377.5h0M1600 1377.7h0M1601.6 1378h0M1603.1 1378.2h0M1604.7 1378.4h0M1606.3 1378.6h0M1607.9 1378.9h0M1609.5 1379.1h0M1611.1 1379.4h0M1612.6 1379.6h0M1614.2 1379.9h0M1615.8 1380.1h0M1617.4 1380.4h0M1619 1380.6h0M1620.5 1380.9h0M1622.1 1381.1h0M1623.7 1381.4h0M1625.3 1381.6h0M1626.9 1381.8h0M1628.5 1381.8h0M1630.1 1381.7h0M1631.6 1381.5h0M1633.2 1381.3h0M1634.8 1381.1h0M1636.4 1381h0M1638 1380.8h0M1639.6 1380.6h0M1641.2 1380.4h0M1642.8 1380.2h0M1644.4 1380h0M1646 1379.9h0M1647.5 1379.7h0M1649.1 1379.5h0M1650.7 1379.3h0M1652.3 1379.1h0M1653.9 1379h0M1655.5 1378.9h0M1657.1 1379h0M1658.7 1379.2h0M1660.3 1379.4h0M1661.9 1379.5h0M1663.5 1379.7h0M1665.1 1379.9h0M1666.6 1380.1h0M1668.2 1380.2h0M1669.8 1380.4h0M1671.4 1380.6h0M1673 1380.8h0M1674.6 1380.9h0M1676.2 1381.1h0M1677.8 1381.3h0M1679.4 1381.5h0M1681 1381.6h0M1682.6 1381.7h0M1684.2 1381.8h0M1685.8 1381.7h0M1687.4 1381.7h0M1689 1381.7h0M1690.6 1381.6h0M1692.2 1381.6h0M1693.8 1381.6h0M1695.4 1381.5h0M1697 1381.5h0M1698.6 1381.5h0M1700.2 1381.4h0M1701.8 1381.4h0M1703.4 1381.4h0M1705 1381.4h0M1706.5 1381.3h0M1708.1 1381.3h0M1709.7 1381.2h0M1711.3 1381.1h0M1712.9 1381h0M1714.5 1380.9h0M1716.1 1380.9h0M1717.7 1380.8h0M1719.3 1380.7h0M1720.9 1380.6h0M1722.5 1380.5h0M1724.1 1380.4h0M1725.7 1380.4h0M1727.3 1380.3h0M1728.9 1380.2h0M1730.5 1380.1h0M1732.1 1379.9h0M1733.7 1379.7h0M1735.3 1379.4h0M1736.8 1379.1h0M1738.4 1378.8h0M1740 1378.4h0M1741.5 1378.1h0M1743.1 1377.8h0M1744.7 1377.4h0M1746.2 1377.1h0M1747.8 1376.8h0M1749.3 1376.4h0M1750.9 1376h0M1752.4 1375.6h0M1754 1375.2h0M1755.5 1374.7h0M1757.1 1374.3h0M1758.6 1373.9h0M1760.1 1373.4h0M1761.7 1373h0M1763.2 1372.6h0M1764.8 1372.1h0M1766.3 1371.7h0M1767.9 1371.4h0M1769.5 1371.2h0M1771.1 1371.1h0M1772.7 1371.1h0M1774.3 1371.1h0M1775.9 1371.1h0M1777.5 1371h0M1779.1 1371h0M1780.7 1371h0M1782.3 1370.9h0M1783.9 1370.9h0M1785.5 1370.9h0M1787.1 1370.8h0M1788.7 1370.8h0M1790.3 1370.8h0M1791.9 1370.8h0M1793.5 1370.7h0M1795.1 1370.7h0M1796.7 1370.6h0M1798.3 1370.5h0M1799.9 1370.4h0M1801.4 1370.4h0M1803 1370.3h0M1804.6 1370.2h0M1806.2 1370.1h0M1807.8 1370h0M1809.4 1369.9h0M1811 1369.9h0M1812.6 1369.8h0M1814.2 1369.7h0M1815.8 1369.6h0M1817.4 1369.5h0M1819 1369.4h0M1820.6 1369.3h0M1822.2 1369.2h0M1823.8 1369.1h0M1825.4 1368.9h0M1827 1368.8h0M1828.6 1368.6h0M1830.2 1368.5h0M1831.8 1368.4h0M1833.4 1368.2h0M1835 1368.1h0M1836.6 1367.9h0M1838.2 1367.8h0M1839.7 1367.6h0M1841.3 1367.5h0M1842.9 1367.4h0M1844.5 1367.2h0M1846.1 1367h0M1847.7 1366.8h0M1849.3 1366.5h0M1850.8 1366.1h0M1852.4 1365.7h0M1853.9 1365.3h0M1855.5 1365h0M1857 1364.6h0M1858.6 1364.2h0M1860.2 1363.8h0M1861.7 1363.5h0M1863.3 1363.1h0M1864.8 1362.7h0M1866.4 1362.3h0M1867.9 1362h0M1869.5 1361.6h0M1871 1361.2h0M1872.6 1360.8h0M1874.1 1360.4h0M1875.7 1360h0M1877.2 1359.5h0M1878.8 1359.1h0M1880.3 1358.7h0M1881.8 1358.2h0M1883.4 1357.8h0M1884.9 1357.4h0M1886.5 1357h0M1888 1356.5h0M1889.5 1356.1h0M1891.1 1355.7h0M1892.6 1355.2h0M1894.2 1354.8h0M1895.7 1354.4h0M1897.3 1354h0M1898.8 1353.7h0M1900.4 1353.5h0M1902 1353.3h0M1903.6 1353.1h0M1905.2 1352.9h0M1906.8 1352.6h0M1908.4 1352.4h0M1909.9 1352.2h0M1911.5 1352h0M1913.1 1351.7h0M1914.7 1351.5h0M1916.3 1351.3h0M1917.9 1351.1h0M1919.4 1350.9h0M1921 1350.6h0M1922.6 1350.4h0M1924.2 1350.1h0M1925.8 1349.8h0M1927.3 1349.5h0M1928.9 1349.2h0M1930.5 1348.9h0M1932 1348.6h0M1933.6 1348.3h0M1935.2 1348.1h0M1936.8 1347.8h0M1938.3 1347.5h0M1939.9 1347.2h0M1941.5 1346.9h0M1943.1 1346.6h0M1944.6 1346.3h0M1946.2 1346h0M1947.8 1345.7h0M1949.3 1345.3h0M1950.9 1344.8h0M1952.4 1344.3h0M1953.9 1343.8h0M1955.4 1343.3h0M1956.9 1342.7h0M1958.4 1342.2h0M1959.9 1341.7h0M1961.4 1341.1h0M1962.9 1340.6h0M1964.5 1340.1h0M1966 1339.6h0M1967.5 1339h0M1969 1338.6h0M1970.5 1338.1h0M1972.1 1337.8h0M1973.7 1337.4h0M1975.2 1337h0M1976.8 1336.6h0M1978.3 1336.3h0M1979.9 1335.9h0M1981.4 1335.5h0M1983 1335.1h0M1984.5 1334.8h0M1986.1 1334.4h0M1987.7 1334.1h0M1989.2 1333.7h0M1990.8 1333.4h0M1992.4 1333h0M1993.9 1332.7h0M1995.5 1332.4h0M1997 1332h0M1998.6 1331.7h0M2000.2 1331.3h0M2001.7 1331h0M2003.3 1330.5h0M2004.7 1329.9h0M2006.1 1329.1h0M2007.5 1328.3h0M2008.8 1327.4h0M2010.2 1326.5h0M2011.5 1325.7h0M2012.9 1324.8h0M2014.2 1324h0M2015.5 1323.1h0M2016.8 1322.1h0M2018 1321.1h0M2019.2 1320h0M2020.4 1318.9h0M2021.6 1317.8h0M2022.8 1316.7h0M2023.9 1315.7h0M2025.1 1314.6h0M2026.3 1313.5h0M2027.4 1312.3h0M2028.4 1311.1h0M2029.5 1309.9h0M2030.5 1308.7h0M2031.6 1307.5h0M2032.6 1306.3h0M2033.7 1305.1h0M2034.7 1303.9h0M2035.7 1302.6h0M2036.7 1301.4h0M2037.7 1300.1h0M2038.6 1298.8h0M2039.5 1297.4h0M2040.4 1296.1h0M2041.3 1294.8h0M2042.2 1293.5h0M2043.1 1292.2h0M2044 1290.8h0M2044.8 1289.5h0M2045.6 1288.1h0M2046.4 1286.7h0M2047.2 1285.3h0M2047.9 1283.9h0M2048.7 1282.5h0M2049.5 1281.1h0M2050.2 1279.6h0M2050.9 1278.2h0M2051.7 1276.8h0M2052.4 1275.4h0M2053.1 1273.9h0M2053.8 1272.5h0M2054.5 1271.1h0M2055.2 1269.6h0M2055.8 1268.1h0M2056.5 1266.7h0M2057.1 1265.2h0M2057.7 1263.7h0M2058.4 1262.3h0M2059 1260.8h0M2059.5 1259.3h0M2060 1257.8h0M2060.6 1256.3h0M2061.1 1254.8h0M2061.6 1253.2h0M2062.2 1251.7h0M2062.6 1250.5h0M2066 1238.5h0M2070.3 1223.5h0M2074 1206h0M2077.3 1185.3h0M2081 1161.8h0M2085 1135.8h0M2088.3 1106.8h0M2092 1074.8h0M2096 1041.3h0M2099.5 1005h0M2103.3 966.8h0M2107 926.5h0M2110.5 885.3h0"/>
<text transform="translate(1359.8 917.7) scale(1 1.012)" font-size="50.8" text-anchor="end" fill="#262626">80</text>
<text transform="translate(1359.8 1038.7) scale(1 1.012)" font-size="50.8" text-anchor="end" fill="#262626">60</text>
<text transform="translate(1359.8 1159.4) scale(1 1.012)" font-size="50.8" text-anchor="end" fill="#262626">40</text>
<text transform="translate(1359.8 1280.1) scale(1 1.012)" font-size="50.8" text-anchor="end" fill="#262626">20</text>
<text transform="translate(1359.8 1400.8) scale(1 1.012)" font-size="50.8" text-anchor="end" fill="#262626">0</text>
<text transform="translate(1359.8 1521.5) scale(1 1.012)" font-size="50.8" text-anchor="end" fill="#262626">-20</text>
<text transform="translate(1394.4 1574.6) scale(1 1.012)" font-size="50.8" text-anchor="middle" fill="#262626">40</text>
<text transform="translate(1710.3 1574.6) scale(1 1.012)" font-size="50.8" text-anchor="middle" fill="#262626">60</text>
<text transform="translate(2026.5 1574.6) scale(1 1.012)" font-size="50.8" text-anchor="middle" fill="#262626">80</text>
<text transform="translate(1241.8 1427) rotate(-90) scale(1 1.045)" font-size="55.9" text-anchor="start" fill="#262626">Stiffness (mN/m)</text>
<text transform="translate(1604 1648) scale(1 1.045)" font-size="55.9" text-anchor="start" fill="#262626">Extension (nm)</text>
<text transform="translate(1194.4 875.6) scale(1 1.05)" font-size="57.7" text-anchor="start" fill="#000000">d)</text>
</g>
</svg>
</body>
</html>
